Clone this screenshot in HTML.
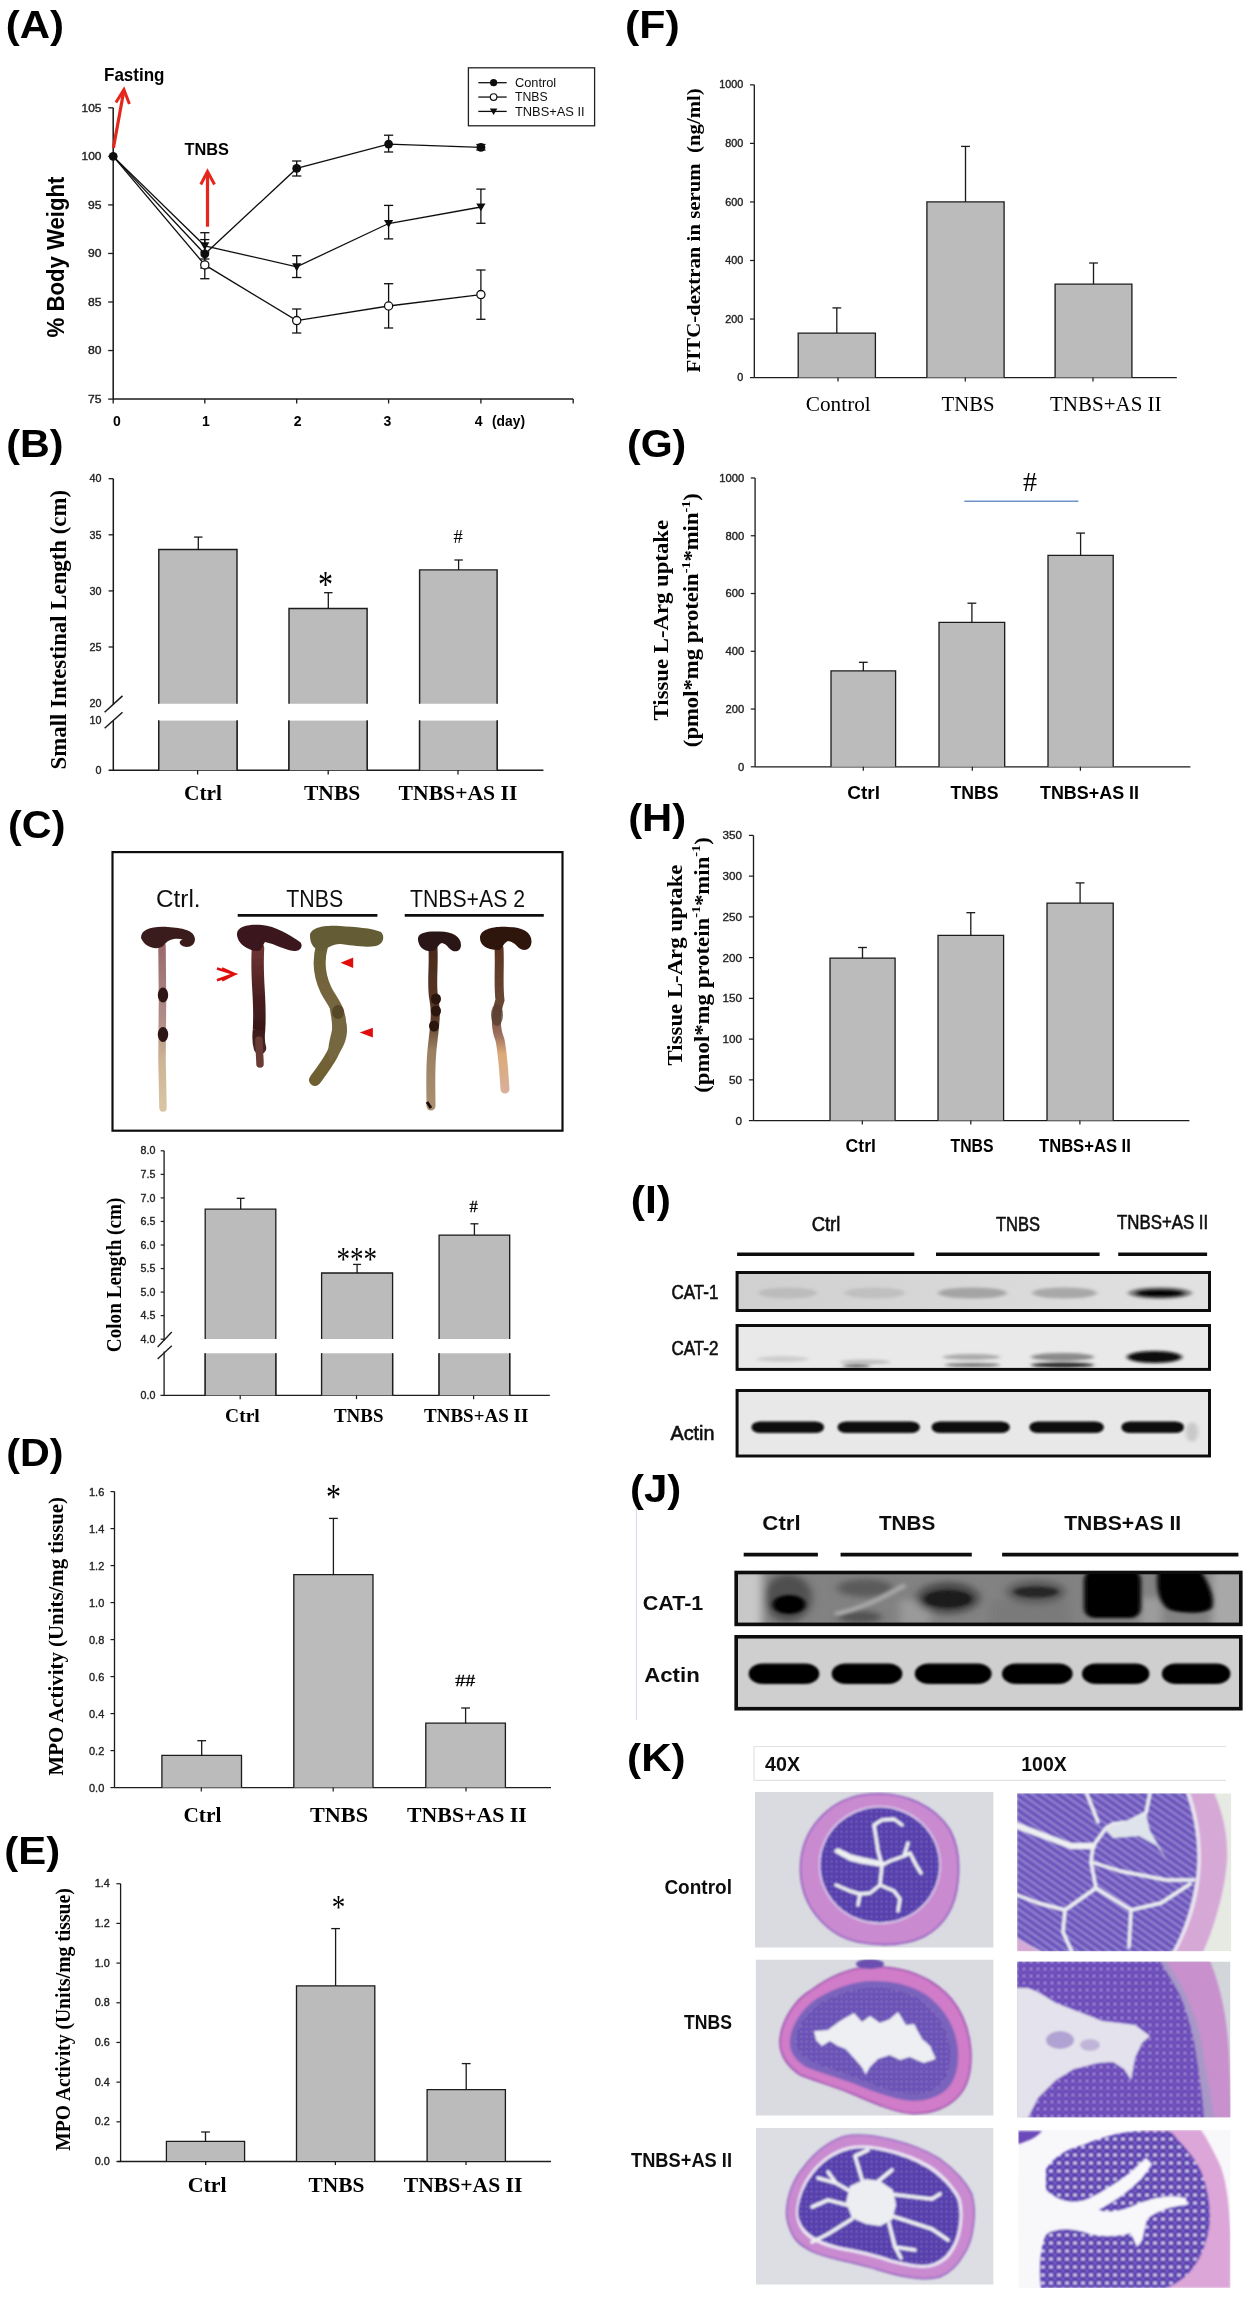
<!DOCTYPE html><html><head><meta charset="utf-8"><style>html,body{margin:0;padding:0;background:#fff;}svg{display:block;}</style></head><body>
<svg width="1252" height="2300" viewBox="0 0 1252 2300">
<rect width="1252" height="2300" fill="#fff"/>
<defs><filter id="gsoft" x="0" y="0" width="100%" height="100%" filterUnits="userSpaceOnUse"><feGaussianBlur stdDeviation="0.45"/></filter></defs>
<g filter="url(#gsoft)">
<text x="5.8" y="37.5" font-family='"Liberation Sans", sans-serif' font-size="39" font-weight="bold" text-anchor="start" fill="#000" textLength="58.3" lengthAdjust="spacingAndGlyphs">(A)</text>
<line x1="113.2" y1="107.8" x2="113.2" y2="399.1" stroke="#1a1a1a" stroke-width="1.5"/>
<line x1="113.2" y1="399.1" x2="573.2" y2="399.1" stroke="#1a1a1a" stroke-width="1.5"/>
<line x1="108.2" y1="399.1" x2="113.2" y2="399.1" stroke="#1a1a1a" stroke-width="1.3"/>
<text x="101.5" y="402.8" font-family='"Liberation Sans", sans-serif' font-size="10.5" font-weight="normal" text-anchor="end" fill="#222" textLength="13.5" lengthAdjust="spacingAndGlyphs" stroke="#222" stroke-width="0.35">75</text>
<line x1="108.2" y1="350.55" x2="113.2" y2="350.55" stroke="#1a1a1a" stroke-width="1.3"/>
<text x="101.5" y="354.25" font-family='"Liberation Sans", sans-serif' font-size="10.5" font-weight="normal" text-anchor="end" fill="#222" textLength="13.5" lengthAdjust="spacingAndGlyphs" stroke="#222" stroke-width="0.35">80</text>
<line x1="108.2" y1="302" x2="113.2" y2="302" stroke="#1a1a1a" stroke-width="1.3"/>
<text x="101.5" y="305.7" font-family='"Liberation Sans", sans-serif' font-size="10.5" font-weight="normal" text-anchor="end" fill="#222" textLength="13.5" lengthAdjust="spacingAndGlyphs" stroke="#222" stroke-width="0.35">85</text>
<line x1="108.2" y1="253.45" x2="113.2" y2="253.45" stroke="#1a1a1a" stroke-width="1.3"/>
<text x="101.5" y="257.15" font-family='"Liberation Sans", sans-serif' font-size="10.5" font-weight="normal" text-anchor="end" fill="#222" textLength="13.5" lengthAdjust="spacingAndGlyphs" stroke="#222" stroke-width="0.35">90</text>
<line x1="108.2" y1="204.9" x2="113.2" y2="204.9" stroke="#1a1a1a" stroke-width="1.3"/>
<text x="101.5" y="208.6" font-family='"Liberation Sans", sans-serif' font-size="10.5" font-weight="normal" text-anchor="end" fill="#222" textLength="13.5" lengthAdjust="spacingAndGlyphs" stroke="#222" stroke-width="0.35">95</text>
<line x1="108.2" y1="156.35" x2="113.2" y2="156.35" stroke="#1a1a1a" stroke-width="1.3"/>
<text x="101.5" y="160.05" font-family='"Liberation Sans", sans-serif' font-size="10.5" font-weight="normal" text-anchor="end" fill="#222" textLength="20" lengthAdjust="spacingAndGlyphs" stroke="#222" stroke-width="0.35">100</text>
<line x1="108.2" y1="107.8" x2="113.2" y2="107.8" stroke="#1a1a1a" stroke-width="1.3"/>
<text x="101.5" y="111.5" font-family='"Liberation Sans", sans-serif' font-size="10.5" font-weight="normal" text-anchor="end" fill="#222" textLength="20" lengthAdjust="spacingAndGlyphs" stroke="#222" stroke-width="0.35">105</text>
<line x1="113.2" y1="399.1" x2="113.2" y2="403.5" stroke="#1a1a1a" stroke-width="1.3"/>
<line x1="204.8" y1="399.1" x2="204.8" y2="403.5" stroke="#1a1a1a" stroke-width="1.3"/>
<line x1="296.7" y1="399.1" x2="296.7" y2="403.5" stroke="#1a1a1a" stroke-width="1.3"/>
<line x1="388.6" y1="399.1" x2="388.6" y2="403.5" stroke="#1a1a1a" stroke-width="1.3"/>
<line x1="480.9" y1="399.1" x2="480.9" y2="403.5" stroke="#1a1a1a" stroke-width="1.3"/>
<line x1="573.2" y1="399.1" x2="573.2" y2="403.5" stroke="#1a1a1a" stroke-width="1.3"/>
<text x="116.8" y="426" font-family='"Liberation Sans", sans-serif' font-size="14" font-weight="bold" text-anchor="middle" fill="#000">0</text>
<text x="205.8" y="426" font-family='"Liberation Sans", sans-serif' font-size="14" font-weight="bold" text-anchor="middle" fill="#000">1</text>
<text x="297.7" y="426" font-family='"Liberation Sans", sans-serif' font-size="14" font-weight="bold" text-anchor="middle" fill="#000">2</text>
<text x="387.5" y="426" font-family='"Liberation Sans", sans-serif' font-size="14" font-weight="bold" text-anchor="middle" fill="#000">3</text>
<text x="478.6" y="426" font-family='"Liberation Sans", sans-serif' font-size="14" font-weight="bold" text-anchor="middle" fill="#000">4</text>
<text x="492" y="426" font-family='"Liberation Sans", sans-serif' font-size="14" font-weight="bold" text-anchor="start" fill="#000" textLength="33" lengthAdjust="spacingAndGlyphs">(day)</text>
<text x="63.5" y="257" font-family='"Liberation Sans", sans-serif' font-size="23" font-weight="bold" text-anchor="middle" fill="#000" textLength="161" lengthAdjust="spacingAndGlyphs" transform="rotate(-90 63.5 257)">% Body Weight</text>
<path d="M113.2 156.4 L204.8 254 L296.7 168.4 L388.6 144.1 L480.9 147.3" fill="none" stroke="#111" stroke-width="1.3"/>
<path d="M113.2 156.4 L204.8 264.9 L296.7 320.6 L388.6 306 L480.9 294.6" fill="none" stroke="#111" stroke-width="1.3"/>
<path d="M113.2 156.4 L204.8 245.8 L296.7 266.8 L388.6 223.5 L480.9 207" fill="none" stroke="#111" stroke-width="1.3"/>
<line x1="204.8" y1="239.6" x2="204.8" y2="268" stroke="#111" stroke-width="1.3"/>
<line x1="200.2" y1="239.6" x2="209.4" y2="239.6" stroke="#111" stroke-width="1.3"/>
<line x1="200.2" y1="268" x2="209.4" y2="268" stroke="#111" stroke-width="1.3"/>
<line x1="296.7" y1="161" x2="296.7" y2="176" stroke="#111" stroke-width="1.3"/>
<line x1="292.1" y1="161" x2="301.3" y2="161" stroke="#111" stroke-width="1.3"/>
<line x1="292.1" y1="176" x2="301.3" y2="176" stroke="#111" stroke-width="1.3"/>
<line x1="388.6" y1="135.2" x2="388.6" y2="152" stroke="#111" stroke-width="1.3"/>
<line x1="384" y1="135.2" x2="393.2" y2="135.2" stroke="#111" stroke-width="1.3"/>
<line x1="384" y1="152" x2="393.2" y2="152" stroke="#111" stroke-width="1.3"/>
<line x1="480.9" y1="144.5" x2="480.9" y2="150" stroke="#111" stroke-width="1.3"/>
<line x1="476.3" y1="144.5" x2="485.5" y2="144.5" stroke="#111" stroke-width="1.3"/>
<line x1="476.3" y1="150" x2="485.5" y2="150" stroke="#111" stroke-width="1.3"/>
<line x1="204.8" y1="252" x2="204.8" y2="278.7" stroke="#111" stroke-width="1.3"/>
<line x1="200.2" y1="252" x2="209.4" y2="252" stroke="#111" stroke-width="1.3"/>
<line x1="200.2" y1="278.7" x2="209.4" y2="278.7" stroke="#111" stroke-width="1.3"/>
<line x1="296.7" y1="309" x2="296.7" y2="333" stroke="#111" stroke-width="1.3"/>
<line x1="292.1" y1="309" x2="301.3" y2="309" stroke="#111" stroke-width="1.3"/>
<line x1="292.1" y1="333" x2="301.3" y2="333" stroke="#111" stroke-width="1.3"/>
<line x1="388.6" y1="283.7" x2="388.6" y2="328" stroke="#111" stroke-width="1.3"/>
<line x1="384" y1="283.7" x2="393.2" y2="283.7" stroke="#111" stroke-width="1.3"/>
<line x1="384" y1="328" x2="393.2" y2="328" stroke="#111" stroke-width="1.3"/>
<line x1="480.9" y1="270" x2="480.9" y2="319.3" stroke="#111" stroke-width="1.3"/>
<line x1="476.3" y1="270" x2="485.5" y2="270" stroke="#111" stroke-width="1.3"/>
<line x1="476.3" y1="319.3" x2="485.5" y2="319.3" stroke="#111" stroke-width="1.3"/>
<line x1="204.8" y1="232.7" x2="204.8" y2="259" stroke="#111" stroke-width="1.3"/>
<line x1="200.2" y1="232.7" x2="209.4" y2="232.7" stroke="#111" stroke-width="1.3"/>
<line x1="200.2" y1="259" x2="209.4" y2="259" stroke="#111" stroke-width="1.3"/>
<line x1="296.7" y1="255.7" x2="296.7" y2="277.5" stroke="#111" stroke-width="1.3"/>
<line x1="292.1" y1="255.7" x2="301.3" y2="255.7" stroke="#111" stroke-width="1.3"/>
<line x1="292.1" y1="277.5" x2="301.3" y2="277.5" stroke="#111" stroke-width="1.3"/>
<line x1="388.6" y1="205.4" x2="388.6" y2="238.9" stroke="#111" stroke-width="1.3"/>
<line x1="384" y1="205.4" x2="393.2" y2="205.4" stroke="#111" stroke-width="1.3"/>
<line x1="384" y1="238.9" x2="393.2" y2="238.9" stroke="#111" stroke-width="1.3"/>
<line x1="480.9" y1="189.1" x2="480.9" y2="223.3" stroke="#111" stroke-width="1.3"/>
<line x1="476.3" y1="189.1" x2="485.5" y2="189.1" stroke="#111" stroke-width="1.3"/>
<line x1="476.3" y1="223.3" x2="485.5" y2="223.3" stroke="#111" stroke-width="1.3"/>
<circle cx="113.2" cy="156.4" r="4.4" fill="#111"/>
<circle cx="204.8" cy="254" r="4.4" fill="#111"/>
<circle cx="296.7" cy="168.4" r="4.4" fill="#111"/>
<circle cx="388.6" cy="144.1" r="4.4" fill="#111"/>
<circle cx="480.9" cy="147.3" r="4.4" fill="#111"/>
<circle cx="204.8" cy="264.9" r="4.1" fill="#fff" stroke="#111" stroke-width="1.3"/>
<circle cx="296.7" cy="320.6" r="4.1" fill="#fff" stroke="#111" stroke-width="1.3"/>
<circle cx="388.6" cy="306" r="4.1" fill="#fff" stroke="#111" stroke-width="1.3"/>
<circle cx="480.9" cy="294.6" r="4.1" fill="#fff" stroke="#111" stroke-width="1.3"/>
<path d="M200.2 242.35 L209.4 242.35 L204.8 250.17 Z" fill="#111" stroke="none" stroke-width="1"/>
<path d="M292.1 263.35 L301.3 263.35 L296.7 271.17 Z" fill="#111" stroke="none" stroke-width="1"/>
<path d="M384 220.05 L393.2 220.05 L388.6 227.87 Z" fill="#111" stroke="none" stroke-width="1"/>
<path d="M476.3 203.55 L485.5 203.55 L480.9 211.37 Z" fill="#111" stroke="none" stroke-width="1"/>
<rect x="468.4" y="67.8" width="126.2" height="58" fill="#fff" stroke="#222" stroke-width="1.3"/>
<line x1="478.3" y1="82.7" x2="506.7" y2="82.7" stroke="#111" stroke-width="1.3"/>
<circle cx="493.6" cy="82.7" r="3.6" fill="#111"/>
<text x="514.9" y="87.1" font-family='"Liberation Sans", sans-serif' font-size="12.5" font-weight="normal" text-anchor="start" fill="#111" textLength="41.3" lengthAdjust="spacingAndGlyphs">Control</text>
<line x1="478.3" y1="97.05" x2="506.7" y2="97.05" stroke="#111" stroke-width="1.3"/>
<circle cx="493.6" cy="97.05" r="3.3" fill="#fff" stroke="#111" stroke-width="1.2"/>
<text x="514.9" y="101.45" font-family='"Liberation Sans", sans-serif' font-size="12.5" font-weight="normal" text-anchor="start" fill="#111" textLength="32.7" lengthAdjust="spacingAndGlyphs">TNBS</text>
<line x1="478.3" y1="111.4" x2="506.7" y2="111.4" stroke="#111" stroke-width="1.3"/>
<path d="M489.8 108.55 L497.4 108.55 L493.6 115.01 Z" fill="#111" stroke="none" stroke-width="1"/>
<text x="514.9" y="115.8" font-family='"Liberation Sans", sans-serif' font-size="12.5" font-weight="normal" text-anchor="start" fill="#111" textLength="69.8" lengthAdjust="spacingAndGlyphs">TNBS+AS II</text>
<text x="104" y="80.5" font-family='"Liberation Sans", sans-serif' font-size="18.5" font-weight="bold" text-anchor="start" fill="#000" textLength="60.5" lengthAdjust="spacingAndGlyphs">Fasting</text>
<text x="184.5" y="154.7" font-family='"Liberation Sans", sans-serif' font-size="16.5" font-weight="bold" text-anchor="start" fill="#000" textLength="44.5" lengthAdjust="spacingAndGlyphs">TNBS</text>
<path d="M113.4 148 L123.8 91" fill="none" stroke="#e4261c" stroke-width="3.2"/>
<path d="M115.9 102.5 L123.9 89.6 L129.4 104" fill="none" stroke="#e4261c" stroke-width="3" stroke-linejoin="miter"/>
<path d="M207.5 226.7 L207.5 173" fill="none" stroke="#e4261c" stroke-width="3.2"/>
<path d="M200.8 184.5 L207.5 171.5 L214.5 184.5" fill="none" stroke="#e4261c" stroke-width="3"/>
<text x="6.2" y="457.1" font-family='"Liberation Sans", sans-serif' font-size="39" font-weight="bold" text-anchor="start" fill="#000" textLength="57.3" lengthAdjust="spacingAndGlyphs">(B)</text>
<line x1="113.3" y1="478.7" x2="113.3" y2="704.5" stroke="#1a1a1a" stroke-width="1.5"/>
<line x1="113.3" y1="720.5" x2="113.3" y2="770.3" stroke="#1a1a1a" stroke-width="1.5"/>
<line x1="108.6" y1="770.3" x2="543.4" y2="770.3" stroke="#1a1a1a" stroke-width="1.5"/>
<line x1="108.6" y1="478.7" x2="113.3" y2="478.7" stroke="#1a1a1a" stroke-width="1.3"/>
<text x="101.5" y="482.4" font-family='"Liberation Sans", sans-serif' font-size="10.5" font-weight="normal" text-anchor="end" fill="#222" textLength="12" lengthAdjust="spacingAndGlyphs" stroke="#222" stroke-width="0.35">40</text>
<line x1="108.6" y1="534.8" x2="113.3" y2="534.8" stroke="#1a1a1a" stroke-width="1.3"/>
<text x="101.5" y="538.5" font-family='"Liberation Sans", sans-serif' font-size="10.5" font-weight="normal" text-anchor="end" fill="#222" textLength="12" lengthAdjust="spacingAndGlyphs" stroke="#222" stroke-width="0.35">35</text>
<line x1="108.6" y1="590.9" x2="113.3" y2="590.9" stroke="#1a1a1a" stroke-width="1.3"/>
<text x="101.5" y="594.6" font-family='"Liberation Sans", sans-serif' font-size="10.5" font-weight="normal" text-anchor="end" fill="#222" textLength="12" lengthAdjust="spacingAndGlyphs" stroke="#222" stroke-width="0.35">30</text>
<line x1="108.6" y1="647" x2="113.3" y2="647" stroke="#1a1a1a" stroke-width="1.3"/>
<text x="101.5" y="650.7" font-family='"Liberation Sans", sans-serif' font-size="10.5" font-weight="normal" text-anchor="end" fill="#222" textLength="12" lengthAdjust="spacingAndGlyphs" stroke="#222" stroke-width="0.35">25</text>
<text x="101.5" y="706.7" font-family='"Liberation Sans", sans-serif' font-size="10.5" font-weight="normal" text-anchor="end" fill="#222" textLength="12" lengthAdjust="spacingAndGlyphs" stroke="#222" stroke-width="0.35">20</text>
<text x="101.5" y="723.5" font-family='"Liberation Sans", sans-serif' font-size="10.5" font-weight="normal" text-anchor="end" fill="#222" textLength="12" lengthAdjust="spacingAndGlyphs" stroke="#222" stroke-width="0.35">10</text>
<text x="101.5" y="773.9" font-family='"Liberation Sans", sans-serif' font-size="10.5" font-weight="normal" text-anchor="end" fill="#222" textLength="6" lengthAdjust="spacingAndGlyphs" stroke="#222" stroke-width="0.35">0</text>
<line x1="104.6" y1="712.3" x2="122.5" y2="695.9" stroke="#1a1a1a" stroke-width="1.5"/>
<line x1="104.6" y1="728.3" x2="122.5" y2="712.3" stroke="#1a1a1a" stroke-width="1.5"/>
<path d="M158.8 703.7 V549.5 H237 V703.7" fill="#bbbbbb" stroke="#1a1a1a" stroke-width="1.4"/>
<path d="M158.8 770.3 V720.6 M237 720.6 V770.3" fill="none" stroke="#1a1a1a" stroke-width="1.4"/>
<rect x="158.8" y="720.6" width="78.2" height="49.7" fill="#bbbbbb" stroke="none" stroke-width="1"/>
<path d="M158.8 770.3 V720.6 M237 720.6 V770.3" fill="none" stroke="#1a1a1a" stroke-width="1.4"/>
<path d="M289 703.7 V608.5 H367.1 V703.7" fill="#bbbbbb" stroke="#1a1a1a" stroke-width="1.4"/>
<path d="M289 770.3 V720.6 M367.1 720.6 V770.3" fill="none" stroke="#1a1a1a" stroke-width="1.4"/>
<rect x="289" y="720.6" width="78.1" height="49.7" fill="#bbbbbb" stroke="none" stroke-width="1"/>
<path d="M289 770.3 V720.6 M367.1 720.6 V770.3" fill="none" stroke="#1a1a1a" stroke-width="1.4"/>
<path d="M419.6 703.7 V569.9 H497.1 V703.7" fill="#bbbbbb" stroke="#1a1a1a" stroke-width="1.4"/>
<path d="M419.6 770.3 V720.6 M497.1 720.6 V770.3" fill="none" stroke="#1a1a1a" stroke-width="1.4"/>
<rect x="419.6" y="720.6" width="77.5" height="49.7" fill="#bbbbbb" stroke="none" stroke-width="1"/>
<path d="M419.6 770.3 V720.6 M497.1 720.6 V770.3" fill="none" stroke="#1a1a1a" stroke-width="1.4"/>
<line x1="198.3" y1="549.5" x2="198.3" y2="537.1" stroke="#1a1a1a" stroke-width="1.3"/>
<line x1="194.05" y1="537.1" x2="202.55" y2="537.1" stroke="#1a1a1a" stroke-width="1.3"/>
<line x1="328.3" y1="608.5" x2="328.3" y2="592.7" stroke="#1a1a1a" stroke-width="1.3"/>
<line x1="324.05" y1="592.7" x2="332.55" y2="592.7" stroke="#1a1a1a" stroke-width="1.3"/>
<line x1="458.6" y1="569.9" x2="458.6" y2="560" stroke="#1a1a1a" stroke-width="1.3"/>
<line x1="454.35" y1="560" x2="462.85" y2="560" stroke="#1a1a1a" stroke-width="1.3"/>
<line x1="197.6" y1="770.3" x2="197.6" y2="774.5" stroke="#1a1a1a" stroke-width="1.3"/>
<line x1="328.2" y1="770.3" x2="328.2" y2="774.5" stroke="#1a1a1a" stroke-width="1.3"/>
<line x1="458" y1="770.3" x2="458" y2="774.5" stroke="#1a1a1a" stroke-width="1.3"/>
<text x="325.6" y="596.7" font-family='"Liberation Serif", serif' font-size="37" font-weight="normal" text-anchor="middle" fill="#000" textLength="15" lengthAdjust="spacingAndGlyphs">*</text>
<text x="458.2" y="543" font-family='"Liberation Serif", serif' font-size="18.5" font-weight="normal" text-anchor="middle" fill="#000">#</text>
<text x="203" y="799.5" font-family='"Liberation Serif", serif' font-size="20.5" font-weight="bold" text-anchor="middle" fill="#000" textLength="38" lengthAdjust="spacingAndGlyphs">Ctrl</text>
<text x="332.1" y="799.5" font-family='"Liberation Serif", serif' font-size="20.5" font-weight="bold" text-anchor="middle" fill="#000" textLength="56.2" lengthAdjust="spacingAndGlyphs">TNBS</text>
<text x="458" y="799.5" font-family='"Liberation Serif", serif' font-size="20.5" font-weight="bold" text-anchor="middle" fill="#000" textLength="118.8" lengthAdjust="spacingAndGlyphs">TNBS+AS II</text>
<text x="65.8" y="629.7" font-family='"Liberation Serif", serif' font-size="22.7" font-weight="bold" text-anchor="middle" fill="#000" textLength="279.5" lengthAdjust="spacingAndGlyphs" transform="rotate(-90 65.8 629.7)">Small Intestinal Length (cm)</text>
<text x="8.1" y="838.3" font-family='"Liberation Sans", sans-serif' font-size="39" font-weight="bold" text-anchor="start" fill="#000" textLength="57.4" lengthAdjust="spacingAndGlyphs">(C)</text>
<defs><linearGradient id="gCtrl" x1="0" y1="0" x2="0" y2="1"><stop offset="0" stop-color="#9a6a6c"/><stop offset="0.45" stop-color="#b08c88"/><stop offset="0.7" stop-color="#cdb393"/><stop offset="1" stop-color="#d8c4a4"/></linearGradient><linearGradient id="gT1" x1="0" y1="0" x2="0" y2="1"><stop offset="0" stop-color="#6e3434"/><stop offset="0.5" stop-color="#4a1e20"/><stop offset="0.8" stop-color="#3a1818"/><stop offset="1" stop-color="#4a2424"/></linearGradient><linearGradient id="gT2" x1="0" y1="0" x2="0" y2="1"><stop offset="0" stop-color="#6a6236"/><stop offset="0.5" stop-color="#7a6640"/><stop offset="1" stop-color="#6e6030"/></linearGradient><linearGradient id="gA1" x1="0" y1="0" x2="0" y2="1"><stop offset="0" stop-color="#4a2a1c"/><stop offset="0.45" stop-color="#5a3a28"/><stop offset="0.65" stop-color="#9a8060"/><stop offset="1" stop-color="#a89070"/></linearGradient><linearGradient id="gA2" x1="0" y1="0" x2="0" y2="1"><stop offset="0" stop-color="#5c3420"/><stop offset="0.45" stop-color="#6a4a38"/><stop offset="0.62" stop-color="#a07060"/><stop offset="0.75" stop-color="#dcaa78"/><stop offset="1" stop-color="#d8b098"/></linearGradient><filter id="soft" x="-20%" y="-20%" width="140%" height="140%"><feGaussianBlur stdDeviation="0.7"/></filter></defs>
<rect x="112.5" y="852.1" width="450" height="278.6" fill="#fff" stroke="#111" stroke-width="2.2"/>
<text x="178.3" y="906.5" font-family='"Liberation Sans", sans-serif' font-size="23" font-weight="normal" text-anchor="middle" fill="#111" textLength="44.6" lengthAdjust="spacingAndGlyphs">Ctrl.</text>
<text x="314.8" y="906.5" font-family='"Liberation Sans", sans-serif' font-size="23" font-weight="normal" text-anchor="middle" fill="#111" textLength="57" lengthAdjust="spacingAndGlyphs">TNBS</text>
<text x="467.5" y="906.5" font-family='"Liberation Sans", sans-serif' font-size="23" font-weight="normal" text-anchor="middle" fill="#111" textLength="115" lengthAdjust="spacingAndGlyphs">TNBS+AS 2</text>
<line x1="237.7" y1="915.4" x2="377.4" y2="915.4" stroke="#111" stroke-width="2.6"/>
<line x1="404.7" y1="915.4" x2="543.8" y2="915.4" stroke="#111" stroke-width="2.6"/>
<g filter="url(#soft)">
<path d="M162 946 L162.5 1000 L162 1060 L163 1108" fill="none" stroke="url(#gCtrl)" stroke-width="7.5" stroke-linecap="round"/>
<path d="M141 938 C141 929 152 926 168 927 C182 928 194.5 930 195 939 C195 947 186 949 181 945 C178 942 181 939 184 940 C176 937 168 939 163 946 C158 950 146 949 141 938 Z" fill="#3a1c1c" stroke="none" stroke-width="1"/>
<ellipse cx="163" cy="995" rx="5.2" ry="7.5" fill="#2e1614"/>
<ellipse cx="163" cy="1034.5" rx="5.2" ry="7.5" fill="#2e1614"/>
<path d="M258 948 C256 980 261 1000 259 1030 C258 1040 259 1045 260 1048" fill="none" stroke="url(#gT1)" stroke-width="12.5" stroke-linecap="round"/>
<path d="M259 1040 C259 1050 260 1058 260 1064" fill="none" stroke="#6a3a34" stroke-width="7.5" stroke-linecap="round"/>
<path d="M237 935 C236 926 250 924 262 925 C275 926 290 935 300 942 C304 946 300 952 294 951 C285 950 275 944 265 942 C262 946 262 951 258 951 C250 951 238 945 237 935 Z" fill="#3a181a" stroke="none" stroke-width="1"/>
<path d="M322 946 C318 960 319 975 326 990 C332 1002 342 1010 340 1030 C338 1050 326 1065 315 1080" fill="none" stroke="url(#gT2)" stroke-width="12" stroke-linecap="round"/>
<path d="M330 1000 C340 1005 348 1018 347 1032 C346 1046 338 1056 330 1062 C326 1050 330 1040 332 1030 C333 1018 328 1008 330 1000 Z" fill="#756840" stroke="none" stroke-width="1"/>
<path d="M310 936 C310 927 325 925 340 926 C355 927 372 928 381 932 C385 936 384 944 376 946 C365 948 350 945 340 944 C332 944 328 948 322 951 C315 951 310 944 310 936 Z" fill="#635c36" stroke="none" stroke-width="1"/>
<ellipse cx="338" cy="1012" rx="6" ry="7" fill="#4a3a22" opacity="0.7"/>
<path d="M433 948 C434 970 431 985 434 1000 C437 1015 434 1030 432 1050 C430 1070 431 1090 431 1106" fill="none" stroke="url(#gA1)" stroke-width="9" stroke-linecap="round"/>
<path d="M418 940 C417 932 428 931 440 931.5 C452 932 461 936 461 945 C461 952 454 953 450 949 C447 946 446 944 442 943 C438 944 437 950 433 951 C425 952 419 948 418 940 Z" fill="#2c1512" stroke="none" stroke-width="1"/>
<ellipse cx="436" cy="999" rx="5" ry="5.5" fill="#2a1410"/>
<ellipse cx="436" cy="1011" rx="5" ry="5.5" fill="#2a1410"/>
<ellipse cx="434" cy="1026" rx="5" ry="5.5" fill="#2a1410"/>
<path d="M427 1102 L431 1108" fill="none" stroke="#1a0a08" stroke-width="3"/>
<path d="M499 948 C500 965 498 985 500 1000 C496 1012 494 1025 500 1040 C503 1055 504 1075 505 1089" fill="none" stroke="url(#gA2)" stroke-width="9" stroke-linecap="round"/>
<path d="M480 938 C480 929 494 926 508 927 C522 927 532 932 531.5 942 C531 950 524 952 519 948 C516 945 514 942 508 941 C503 943 502 950 498 950 C488 950 480 946 480 938 Z" fill="#2e1510" stroke="none" stroke-width="1"/>
<ellipse cx="497" cy="1015" rx="6" ry="11" fill="#5a4030" opacity="0.8"/>
</g>
<path d="M217 968.5 L234.5 974 L217 980.3 M222 968.5 L234.5 974 L222 980.3" fill="none" stroke="#e01010" stroke-width="2.6"/>
<path d="M353.2 957.5 L340.5 962.7 L353.2 967.9 Z" fill="#e01010" stroke="none" stroke-width="1"/>
<path d="M372.9 1027.7 L359.7 1032.5 L372.9 1037.4 Z" fill="#e01010" stroke="none" stroke-width="1"/>
<line x1="164.1" y1="1150.8" x2="164.1" y2="1340.5" stroke="#1a1a1a" stroke-width="1.3"/>
<line x1="164.1" y1="1351.5" x2="164.1" y2="1395.4" stroke="#1a1a1a" stroke-width="1.3"/>
<line x1="160.5" y1="1395.4" x2="549.8" y2="1395.4" stroke="#1a1a1a" stroke-width="1.3"/>
<line x1="160.7" y1="1150.8" x2="164.1" y2="1150.8" stroke="#1a1a1a" stroke-width="1.2"/>
<text x="155.4" y="1154.4" font-family='"Liberation Sans", sans-serif' font-size="10" font-weight="normal" text-anchor="end" fill="#222" textLength="14.8" lengthAdjust="spacingAndGlyphs" stroke="#222" stroke-width="0.35">8.0</text>
<line x1="160.7" y1="1174.35" x2="164.1" y2="1174.35" stroke="#1a1a1a" stroke-width="1.2"/>
<text x="155.4" y="1177.95" font-family='"Liberation Sans", sans-serif' font-size="10" font-weight="normal" text-anchor="end" fill="#222" textLength="14.8" lengthAdjust="spacingAndGlyphs" stroke="#222" stroke-width="0.35">7.5</text>
<line x1="160.7" y1="1197.9" x2="164.1" y2="1197.9" stroke="#1a1a1a" stroke-width="1.2"/>
<text x="155.4" y="1201.5" font-family='"Liberation Sans", sans-serif' font-size="10" font-weight="normal" text-anchor="end" fill="#222" textLength="14.8" lengthAdjust="spacingAndGlyphs" stroke="#222" stroke-width="0.35">7.0</text>
<line x1="160.7" y1="1221.45" x2="164.1" y2="1221.45" stroke="#1a1a1a" stroke-width="1.2"/>
<text x="155.4" y="1225.05" font-family='"Liberation Sans", sans-serif' font-size="10" font-weight="normal" text-anchor="end" fill="#222" textLength="14.8" lengthAdjust="spacingAndGlyphs" stroke="#222" stroke-width="0.35">6.5</text>
<line x1="160.7" y1="1245" x2="164.1" y2="1245" stroke="#1a1a1a" stroke-width="1.2"/>
<text x="155.4" y="1248.6" font-family='"Liberation Sans", sans-serif' font-size="10" font-weight="normal" text-anchor="end" fill="#222" textLength="14.8" lengthAdjust="spacingAndGlyphs" stroke="#222" stroke-width="0.35">6.0</text>
<line x1="160.7" y1="1268.55" x2="164.1" y2="1268.55" stroke="#1a1a1a" stroke-width="1.2"/>
<text x="155.4" y="1272.15" font-family='"Liberation Sans", sans-serif' font-size="10" font-weight="normal" text-anchor="end" fill="#222" textLength="14.8" lengthAdjust="spacingAndGlyphs" stroke="#222" stroke-width="0.35">5.5</text>
<line x1="160.7" y1="1292.1" x2="164.1" y2="1292.1" stroke="#1a1a1a" stroke-width="1.2"/>
<text x="155.4" y="1295.7" font-family='"Liberation Sans", sans-serif' font-size="10" font-weight="normal" text-anchor="end" fill="#222" textLength="14.8" lengthAdjust="spacingAndGlyphs" stroke="#222" stroke-width="0.35">5.0</text>
<line x1="160.7" y1="1315.65" x2="164.1" y2="1315.65" stroke="#1a1a1a" stroke-width="1.2"/>
<text x="155.4" y="1319.25" font-family='"Liberation Sans", sans-serif' font-size="10" font-weight="normal" text-anchor="end" fill="#222" textLength="14.8" lengthAdjust="spacingAndGlyphs" stroke="#222" stroke-width="0.35">4.5</text>
<line x1="160.7" y1="1339.2" x2="164.1" y2="1339.2" stroke="#1a1a1a" stroke-width="1.2"/>
<text x="155.4" y="1342.8" font-family='"Liberation Sans", sans-serif' font-size="10" font-weight="normal" text-anchor="end" fill="#222" textLength="14.8" lengthAdjust="spacingAndGlyphs" stroke="#222" stroke-width="0.35">4.0</text>
<text x="155.4" y="1399" font-family='"Liberation Sans", sans-serif' font-size="10" font-weight="normal" text-anchor="end" fill="#222" textLength="14.8" lengthAdjust="spacingAndGlyphs" stroke="#222" stroke-width="0.35">0.0</text>
<line x1="157.6" y1="1347" x2="171.8" y2="1332" stroke="#1a1a1a" stroke-width="1.3"/>
<line x1="157.6" y1="1359" x2="171.8" y2="1345.8" stroke="#1a1a1a" stroke-width="1.3"/>
<path d="M205.2 1339.1 V1209.2 H275.8 V1339.1" fill="#bbbbbb" stroke="#1a1a1a" stroke-width="1.3"/>
<path d="M205.2 1395.4 V1353.3 M275.8 1353.3 V1395.4" fill="none" stroke="#1a1a1a" stroke-width="1.3"/>
<rect x="205.2" y="1353.3" width="70.6" height="42.1" fill="#bbbbbb" stroke="none" stroke-width="1"/>
<path d="M205.2 1395.4 V1353.3 M275.8 1353.3 V1395.4" fill="none" stroke="#1a1a1a" stroke-width="1.3"/>
<path d="M321.6 1339.1 V1273 H392.6 V1339.1" fill="#bbbbbb" stroke="#1a1a1a" stroke-width="1.3"/>
<path d="M321.6 1395.4 V1353.3 M392.6 1353.3 V1395.4" fill="none" stroke="#1a1a1a" stroke-width="1.3"/>
<rect x="321.6" y="1353.3" width="71" height="42.1" fill="#bbbbbb" stroke="none" stroke-width="1"/>
<path d="M321.6 1395.4 V1353.3 M392.6 1353.3 V1395.4" fill="none" stroke="#1a1a1a" stroke-width="1.3"/>
<path d="M439.1 1339.1 V1235.1 H509.7 V1339.1" fill="#bbbbbb" stroke="#1a1a1a" stroke-width="1.3"/>
<path d="M439.1 1395.4 V1353.3 M509.7 1353.3 V1395.4" fill="none" stroke="#1a1a1a" stroke-width="1.3"/>
<rect x="439.1" y="1353.3" width="70.6" height="42.1" fill="#bbbbbb" stroke="none" stroke-width="1"/>
<path d="M439.1 1395.4 V1353.3 M509.7 1353.3 V1395.4" fill="none" stroke="#1a1a1a" stroke-width="1.3"/>
<line x1="240.7" y1="1209.2" x2="240.7" y2="1198.3" stroke="#1a1a1a" stroke-width="1.3"/>
<line x1="236.7" y1="1198.3" x2="244.7" y2="1198.3" stroke="#1a1a1a" stroke-width="1.3"/>
<line x1="357.1" y1="1273" x2="357.1" y2="1264.4" stroke="#1a1a1a" stroke-width="1.3"/>
<line x1="353.1" y1="1264.4" x2="361.1" y2="1264.4" stroke="#1a1a1a" stroke-width="1.3"/>
<line x1="474.4" y1="1235.1" x2="474.4" y2="1223.8" stroke="#1a1a1a" stroke-width="1.3"/>
<line x1="470.4" y1="1223.8" x2="478.4" y2="1223.8" stroke="#1a1a1a" stroke-width="1.3"/>
<line x1="240.2" y1="1395.4" x2="240.2" y2="1399.2" stroke="#1a1a1a" stroke-width="1.2"/>
<line x1="356.5" y1="1395.4" x2="356.5" y2="1399.2" stroke="#1a1a1a" stroke-width="1.2"/>
<line x1="473.6" y1="1395.4" x2="473.6" y2="1399.2" stroke="#1a1a1a" stroke-width="1.2"/>
<text x="356.8" y="1269.6" font-family='"Liberation Serif", serif' font-size="33" font-weight="normal" text-anchor="middle" fill="#000" textLength="40.6" lengthAdjust="spacingAndGlyphs">***</text>
<text x="473.6" y="1212" font-family='"Liberation Serif", serif' font-size="16.5" font-weight="normal" text-anchor="middle" fill="#000" stroke="#000" stroke-width="0.3">#</text>
<text x="242.4" y="1422" font-family='"Liberation Serif", serif' font-size="19" font-weight="bold" text-anchor="middle" fill="#000" textLength="34.6" lengthAdjust="spacingAndGlyphs">Ctrl</text>
<text x="358.7" y="1422" font-family='"Liberation Serif", serif' font-size="19" font-weight="bold" text-anchor="middle" fill="#000" textLength="49.5" lengthAdjust="spacingAndGlyphs">TNBS</text>
<text x="476.2" y="1422" font-family='"Liberation Serif", serif' font-size="19" font-weight="bold" text-anchor="middle" fill="#000" textLength="104.4" lengthAdjust="spacingAndGlyphs">TNBS+AS II</text>
<text x="121.3" y="1274.9" font-family='"Liberation Serif", serif' font-size="20.5" font-weight="bold" text-anchor="middle" fill="#000" textLength="154.6" lengthAdjust="spacingAndGlyphs" transform="rotate(-90 121.3 1274.9)">Colon Length (cm)</text>
<text x="6.2" y="1466.4" font-family='"Liberation Sans", sans-serif' font-size="39" font-weight="bold" text-anchor="start" fill="#000" textLength="57.3" lengthAdjust="spacingAndGlyphs">(D)</text>
<line x1="114.5" y1="1491.6" x2="114.5" y2="1787.6" stroke="#1a1a1a" stroke-width="1.3"/>
<line x1="114.5" y1="1787.6" x2="551" y2="1787.6" stroke="#1a1a1a" stroke-width="1.3"/>
<line x1="110.5" y1="1787.6" x2="114.5" y2="1787.6" stroke="#1a1a1a" stroke-width="1.2"/>
<text x="104.3" y="1791.7" font-family='"Liberation Sans", sans-serif' font-size="11.5" font-weight="normal" text-anchor="end" fill="#222" textLength="15.3" lengthAdjust="spacingAndGlyphs" stroke="#222" stroke-width="0.35">0.0</text>
<line x1="110.5" y1="1750.6" x2="114.5" y2="1750.6" stroke="#1a1a1a" stroke-width="1.2"/>
<text x="104.3" y="1754.7" font-family='"Liberation Sans", sans-serif' font-size="11.5" font-weight="normal" text-anchor="end" fill="#222" textLength="15.3" lengthAdjust="spacingAndGlyphs" stroke="#222" stroke-width="0.35">0.2</text>
<line x1="110.5" y1="1713.6" x2="114.5" y2="1713.6" stroke="#1a1a1a" stroke-width="1.2"/>
<text x="104.3" y="1717.7" font-family='"Liberation Sans", sans-serif' font-size="11.5" font-weight="normal" text-anchor="end" fill="#222" textLength="15.3" lengthAdjust="spacingAndGlyphs" stroke="#222" stroke-width="0.35">0.4</text>
<line x1="110.5" y1="1676.6" x2="114.5" y2="1676.6" stroke="#1a1a1a" stroke-width="1.2"/>
<text x="104.3" y="1680.7" font-family='"Liberation Sans", sans-serif' font-size="11.5" font-weight="normal" text-anchor="end" fill="#222" textLength="15.3" lengthAdjust="spacingAndGlyphs" stroke="#222" stroke-width="0.35">0.6</text>
<line x1="110.5" y1="1639.6" x2="114.5" y2="1639.6" stroke="#1a1a1a" stroke-width="1.2"/>
<text x="104.3" y="1643.7" font-family='"Liberation Sans", sans-serif' font-size="11.5" font-weight="normal" text-anchor="end" fill="#222" textLength="15.3" lengthAdjust="spacingAndGlyphs" stroke="#222" stroke-width="0.35">0.8</text>
<line x1="110.5" y1="1602.6" x2="114.5" y2="1602.6" stroke="#1a1a1a" stroke-width="1.2"/>
<text x="104.3" y="1606.7" font-family='"Liberation Sans", sans-serif' font-size="11.5" font-weight="normal" text-anchor="end" fill="#222" textLength="15.3" lengthAdjust="spacingAndGlyphs" stroke="#222" stroke-width="0.35">1.0</text>
<line x1="110.5" y1="1565.6" x2="114.5" y2="1565.6" stroke="#1a1a1a" stroke-width="1.2"/>
<text x="104.3" y="1569.7" font-family='"Liberation Sans", sans-serif' font-size="11.5" font-weight="normal" text-anchor="end" fill="#222" textLength="15.3" lengthAdjust="spacingAndGlyphs" stroke="#222" stroke-width="0.35">1.2</text>
<line x1="110.5" y1="1528.6" x2="114.5" y2="1528.6" stroke="#1a1a1a" stroke-width="1.2"/>
<text x="104.3" y="1532.7" font-family='"Liberation Sans", sans-serif' font-size="11.5" font-weight="normal" text-anchor="end" fill="#222" textLength="15.3" lengthAdjust="spacingAndGlyphs" stroke="#222" stroke-width="0.35">1.4</text>
<line x1="110.5" y1="1491.6" x2="114.5" y2="1491.6" stroke="#1a1a1a" stroke-width="1.2"/>
<text x="104.3" y="1495.7" font-family='"Liberation Sans", sans-serif' font-size="11.5" font-weight="normal" text-anchor="end" fill="#222" textLength="15.3" lengthAdjust="spacingAndGlyphs" stroke="#222" stroke-width="0.35">1.6</text>
<path d="M161.9 1787.6 V1755.4 H241.5 V1787.6" fill="#bbbbbb" stroke="#1a1a1a" stroke-width="1.3"/>
<path d="M293.8 1787.6 V1574.7 H373 V1787.6" fill="#bbbbbb" stroke="#1a1a1a" stroke-width="1.3"/>
<path d="M425.8 1787.6 V1723.2 H505.4 V1787.6" fill="#bbbbbb" stroke="#1a1a1a" stroke-width="1.3"/>
<line x1="201.7" y1="1755.4" x2="201.7" y2="1740.7" stroke="#1a1a1a" stroke-width="1.3"/>
<line x1="197.3" y1="1740.7" x2="206.1" y2="1740.7" stroke="#1a1a1a" stroke-width="1.3"/>
<line x1="333.4" y1="1574.7" x2="333.4" y2="1518.4" stroke="#1a1a1a" stroke-width="1.3"/>
<line x1="329" y1="1518.4" x2="337.8" y2="1518.4" stroke="#1a1a1a" stroke-width="1.3"/>
<line x1="465.6" y1="1723.2" x2="465.6" y2="1708" stroke="#1a1a1a" stroke-width="1.3"/>
<line x1="461.2" y1="1708" x2="470" y2="1708" stroke="#1a1a1a" stroke-width="1.3"/>
<line x1="201.3" y1="1787.6" x2="201.3" y2="1791.5" stroke="#1a1a1a" stroke-width="1.2"/>
<line x1="333.2" y1="1787.6" x2="333.2" y2="1791.5" stroke="#1a1a1a" stroke-width="1.2"/>
<line x1="466" y1="1787.6" x2="466" y2="1791.5" stroke="#1a1a1a" stroke-width="1.2"/>
<text x="333.6" y="1508.5" font-family='"Liberation Serif", serif' font-size="36" font-weight="normal" text-anchor="middle" fill="#000" textLength="15" lengthAdjust="spacingAndGlyphs">*</text>
<text x="465.2" y="1685.5" font-family='"Liberation Serif", serif' font-size="16" font-weight="normal" text-anchor="middle" fill="#000" textLength="20" lengthAdjust="spacingAndGlyphs" stroke="#000" stroke-width="0.3">##</text>
<text x="202.4" y="1821.6" font-family='"Liberation Serif", serif' font-size="21.5" font-weight="bold" text-anchor="middle" fill="#000" textLength="38" lengthAdjust="spacingAndGlyphs">Ctrl</text>
<text x="339" y="1821.6" font-family='"Liberation Serif", serif' font-size="21.5" font-weight="bold" text-anchor="middle" fill="#000" textLength="58" lengthAdjust="spacingAndGlyphs">TNBS</text>
<text x="466.9" y="1821.6" font-family='"Liberation Serif", serif' font-size="21.5" font-weight="bold" text-anchor="middle" fill="#000" textLength="119.8" lengthAdjust="spacingAndGlyphs">TNBS+AS II</text>
<text x="63.5" y="1636.2" font-family='"Liberation Serif", serif' font-size="21.5" font-weight="bold" text-anchor="middle" fill="#000" textLength="278.5" lengthAdjust="spacingAndGlyphs" transform="rotate(-90 63.5 1636.2)">MPO Activity (Units/mg tissue)</text>
<text x="4.3" y="1863.5" font-family='"Liberation Sans", sans-serif' font-size="39" font-weight="bold" text-anchor="start" fill="#000" textLength="55.8" lengthAdjust="spacingAndGlyphs">(E)</text>
<line x1="120.6" y1="1883.74" x2="120.6" y2="2161.1" stroke="#1a1a1a" stroke-width="1.3"/>
<line x1="117.6" y1="2161.5" x2="551" y2="2161.5" stroke="#1a1a1a" stroke-width="1.3"/>
<line x1="116.4" y1="2161.5" x2="120.6" y2="2161.5" stroke="#1a1a1a" stroke-width="1.2"/>
<text x="109.7" y="2165.1" font-family='"Liberation Sans", sans-serif' font-size="10" font-weight="normal" text-anchor="end" fill="#222" textLength="15" lengthAdjust="spacingAndGlyphs" stroke="#222" stroke-width="0.35">0.0</text>
<line x1="116.4" y1="2121.82" x2="120.6" y2="2121.82" stroke="#1a1a1a" stroke-width="1.2"/>
<text x="109.7" y="2125.42" font-family='"Liberation Sans", sans-serif' font-size="10" font-weight="normal" text-anchor="end" fill="#222" textLength="15" lengthAdjust="spacingAndGlyphs" stroke="#222" stroke-width="0.35">0.2</text>
<line x1="116.4" y1="2082.14" x2="120.6" y2="2082.14" stroke="#1a1a1a" stroke-width="1.2"/>
<text x="109.7" y="2085.74" font-family='"Liberation Sans", sans-serif' font-size="10" font-weight="normal" text-anchor="end" fill="#222" textLength="15" lengthAdjust="spacingAndGlyphs" stroke="#222" stroke-width="0.35">0.4</text>
<line x1="116.4" y1="2042.46" x2="120.6" y2="2042.46" stroke="#1a1a1a" stroke-width="1.2"/>
<text x="109.7" y="2046.06" font-family='"Liberation Sans", sans-serif' font-size="10" font-weight="normal" text-anchor="end" fill="#222" textLength="15" lengthAdjust="spacingAndGlyphs" stroke="#222" stroke-width="0.35">0.6</text>
<line x1="116.4" y1="2002.78" x2="120.6" y2="2002.78" stroke="#1a1a1a" stroke-width="1.2"/>
<text x="109.7" y="2006.38" font-family='"Liberation Sans", sans-serif' font-size="10" font-weight="normal" text-anchor="end" fill="#222" textLength="15" lengthAdjust="spacingAndGlyphs" stroke="#222" stroke-width="0.35">0.8</text>
<line x1="116.4" y1="1963.1" x2="120.6" y2="1963.1" stroke="#1a1a1a" stroke-width="1.2"/>
<text x="109.7" y="1966.7" font-family='"Liberation Sans", sans-serif' font-size="10" font-weight="normal" text-anchor="end" fill="#222" textLength="15" lengthAdjust="spacingAndGlyphs" stroke="#222" stroke-width="0.35">1.0</text>
<line x1="116.4" y1="1923.42" x2="120.6" y2="1923.42" stroke="#1a1a1a" stroke-width="1.2"/>
<text x="109.7" y="1927.02" font-family='"Liberation Sans", sans-serif' font-size="10" font-weight="normal" text-anchor="end" fill="#222" textLength="15" lengthAdjust="spacingAndGlyphs" stroke="#222" stroke-width="0.35">1.2</text>
<line x1="116.4" y1="1883.74" x2="120.6" y2="1883.74" stroke="#1a1a1a" stroke-width="1.2"/>
<text x="109.7" y="1887.34" font-family='"Liberation Sans", sans-serif' font-size="10" font-weight="normal" text-anchor="end" fill="#222" textLength="15" lengthAdjust="spacingAndGlyphs" stroke="#222" stroke-width="0.35">1.4</text>
<path d="M166.4 2161.1 V2141.4 H244.6 V2161.1" fill="#bbbbbb" stroke="#1a1a1a" stroke-width="1.3"/>
<path d="M296.5 2161.1 V1985.8 H374.8 V2161.1" fill="#bbbbbb" stroke="#1a1a1a" stroke-width="1.3"/>
<path d="M427.1 2161.1 V2089.6 H505.4 V2161.1" fill="#bbbbbb" stroke="#1a1a1a" stroke-width="1.3"/>
<line x1="205.5" y1="2141.4" x2="205.5" y2="2132" stroke="#1a1a1a" stroke-width="1.3"/>
<line x1="201.1" y1="2132" x2="209.9" y2="2132" stroke="#1a1a1a" stroke-width="1.3"/>
<line x1="335.6" y1="1985.8" x2="335.6" y2="1928.6" stroke="#1a1a1a" stroke-width="1.3"/>
<line x1="331.2" y1="1928.6" x2="340" y2="1928.6" stroke="#1a1a1a" stroke-width="1.3"/>
<line x1="466.2" y1="2089.6" x2="466.2" y2="2063.6" stroke="#1a1a1a" stroke-width="1.3"/>
<line x1="461.8" y1="2063.6" x2="470.6" y2="2063.6" stroke="#1a1a1a" stroke-width="1.3"/>
<line x1="205.7" y1="2161.1" x2="205.7" y2="2165" stroke="#1a1a1a" stroke-width="1.2"/>
<line x1="335.4" y1="2161.1" x2="335.4" y2="2165" stroke="#1a1a1a" stroke-width="1.2"/>
<line x1="466" y1="2161.1" x2="466" y2="2165" stroke="#1a1a1a" stroke-width="1.2"/>
<text x="338.4" y="1918.3" font-family='"Liberation Serif", serif' font-size="34" font-weight="normal" text-anchor="middle" fill="#000" textLength="13.5" lengthAdjust="spacingAndGlyphs">*</text>
<text x="207.2" y="2192" font-family='"Liberation Serif", serif' font-size="21" font-weight="bold" text-anchor="middle" fill="#000" textLength="38.9" lengthAdjust="spacingAndGlyphs">Ctrl</text>
<text x="336.5" y="2192" font-family='"Liberation Serif", serif' font-size="21" font-weight="bold" text-anchor="middle" fill="#000" textLength="55.9" lengthAdjust="spacingAndGlyphs">TNBS</text>
<text x="463.1" y="2192" font-family='"Liberation Serif", serif' font-size="21" font-weight="bold" text-anchor="middle" fill="#000" textLength="118.6" lengthAdjust="spacingAndGlyphs">TNBS+AS II</text>
<text x="69.5" y="2019.5" font-family='"Liberation Serif", serif' font-size="20" font-weight="bold" text-anchor="middle" fill="#000" textLength="262.5" lengthAdjust="spacingAndGlyphs" transform="rotate(-90 69.5 2019.5)">MPO Activity (Units/mg tissue)</text>
<text x="625" y="37.7" font-family='"Liberation Sans", sans-serif' font-size="39" font-weight="bold" text-anchor="start" fill="#000" textLength="54.7" lengthAdjust="spacingAndGlyphs">(F)</text>
<line x1="754.3" y1="84.85" x2="754.3" y2="377.6" stroke="#1a1a1a" stroke-width="1.3"/>
<line x1="754.3" y1="377.6" x2="1176.8" y2="377.6" stroke="#1a1a1a" stroke-width="1.3"/>
<line x1="750" y1="377.6" x2="754.3" y2="377.6" stroke="#1a1a1a" stroke-width="1.2"/>
<text x="743.3" y="381.2" font-family='"Liberation Sans", sans-serif' font-size="10" font-weight="normal" text-anchor="end" fill="#222" textLength="6" lengthAdjust="spacingAndGlyphs" stroke="#222" stroke-width="0.35">0</text>
<line x1="750" y1="319.05" x2="754.3" y2="319.05" stroke="#1a1a1a" stroke-width="1.2"/>
<text x="743.3" y="322.65" font-family='"Liberation Sans", sans-serif' font-size="10" font-weight="normal" text-anchor="end" fill="#222" textLength="18" lengthAdjust="spacingAndGlyphs" stroke="#222" stroke-width="0.35">200</text>
<line x1="750" y1="260.5" x2="754.3" y2="260.5" stroke="#1a1a1a" stroke-width="1.2"/>
<text x="743.3" y="264.1" font-family='"Liberation Sans", sans-serif' font-size="10" font-weight="normal" text-anchor="end" fill="#222" textLength="18" lengthAdjust="spacingAndGlyphs" stroke="#222" stroke-width="0.35">400</text>
<line x1="750" y1="201.95" x2="754.3" y2="201.95" stroke="#1a1a1a" stroke-width="1.2"/>
<text x="743.3" y="205.55" font-family='"Liberation Sans", sans-serif' font-size="10" font-weight="normal" text-anchor="end" fill="#222" textLength="18" lengthAdjust="spacingAndGlyphs" stroke="#222" stroke-width="0.35">600</text>
<line x1="750" y1="143.4" x2="754.3" y2="143.4" stroke="#1a1a1a" stroke-width="1.2"/>
<text x="743.3" y="147" font-family='"Liberation Sans", sans-serif' font-size="10" font-weight="normal" text-anchor="end" fill="#222" textLength="18" lengthAdjust="spacingAndGlyphs" stroke="#222" stroke-width="0.35">800</text>
<line x1="750" y1="84.85" x2="754.3" y2="84.85" stroke="#1a1a1a" stroke-width="1.2"/>
<text x="743.3" y="88.45" font-family='"Liberation Sans", sans-serif' font-size="10" font-weight="normal" text-anchor="end" fill="#222" textLength="24" lengthAdjust="spacingAndGlyphs" stroke="#222" stroke-width="0.35">1000</text>
<path d="M798.2 377.6 V333.2 H875.4 V377.6" fill="#bbbbbb" stroke="#1a1a1a" stroke-width="1.3"/>
<path d="M926.9 377.6 V201.9 H1004.1 V377.6" fill="#bbbbbb" stroke="#1a1a1a" stroke-width="1.3"/>
<path d="M1055.1 377.6 V284.2 H1131.9 V377.6" fill="#bbbbbb" stroke="#1a1a1a" stroke-width="1.3"/>
<line x1="836.8" y1="333.2" x2="836.8" y2="307.9" stroke="#1a1a1a" stroke-width="1.3"/>
<line x1="832.4" y1="307.9" x2="841.2" y2="307.9" stroke="#1a1a1a" stroke-width="1.3"/>
<line x1="965.5" y1="201.9" x2="965.5" y2="146.4" stroke="#1a1a1a" stroke-width="1.3"/>
<line x1="961.1" y1="146.4" x2="969.9" y2="146.4" stroke="#1a1a1a" stroke-width="1.3"/>
<line x1="1093.5" y1="284.2" x2="1093.5" y2="263" stroke="#1a1a1a" stroke-width="1.3"/>
<line x1="1089.1" y1="263" x2="1097.9" y2="263" stroke="#1a1a1a" stroke-width="1.3"/>
<line x1="838" y1="377.6" x2="838" y2="381.5" stroke="#1a1a1a" stroke-width="1.2"/>
<line x1="965.3" y1="377.6" x2="965.3" y2="381.5" stroke="#1a1a1a" stroke-width="1.2"/>
<line x1="1093" y1="377.6" x2="1093" y2="381.5" stroke="#1a1a1a" stroke-width="1.2"/>
<text x="838.3" y="411.4" font-family='"Liberation Serif", serif' font-size="20.5" font-weight="normal" text-anchor="middle" fill="#000" textLength="65" lengthAdjust="spacingAndGlyphs">Control</text>
<text x="968.1" y="411.4" font-family='"Liberation Serif", serif' font-size="20.5" font-weight="normal" text-anchor="middle" fill="#000" textLength="53" lengthAdjust="spacingAndGlyphs">TNBS</text>
<text x="1105.8" y="411.4" font-family='"Liberation Serif", serif' font-size="20.5" font-weight="normal" text-anchor="middle" fill="#000" textLength="111.6" lengthAdjust="spacingAndGlyphs">TNBS+AS II</text>
<text x="700" y="230.4" font-family='"Liberation Serif", serif' font-size="18.5" font-weight="bold" text-anchor="middle" fill="#000" textLength="284.2" lengthAdjust="spacingAndGlyphs" transform="rotate(-90 700 230.4)">FITC-dextran in serum  (ng/ml)</text>
<text x="627" y="457" font-family='"Liberation Sans", sans-serif' font-size="39" font-weight="bold" text-anchor="start" fill="#000" textLength="59.3" lengthAdjust="spacingAndGlyphs">(G)</text>
<line x1="755.1" y1="478" x2="755.1" y2="766.8" stroke="#1a1a1a" stroke-width="1.3"/>
<line x1="755.1" y1="766.8" x2="1190.4" y2="766.8" stroke="#1a1a1a" stroke-width="1.3"/>
<line x1="750.8" y1="766.8" x2="755.1" y2="766.8" stroke="#1a1a1a" stroke-width="1.2"/>
<text x="744.3" y="770.6" font-family='"Liberation Sans", sans-serif' font-size="10.7" font-weight="normal" text-anchor="end" fill="#222" textLength="6.25" lengthAdjust="spacingAndGlyphs" stroke="#222" stroke-width="0.35">0</text>
<line x1="750.8" y1="709.04" x2="755.1" y2="709.04" stroke="#1a1a1a" stroke-width="1.2"/>
<text x="744.3" y="712.84" font-family='"Liberation Sans", sans-serif' font-size="10.7" font-weight="normal" text-anchor="end" fill="#222" textLength="18.75" lengthAdjust="spacingAndGlyphs" stroke="#222" stroke-width="0.35">200</text>
<line x1="750.8" y1="651.28" x2="755.1" y2="651.28" stroke="#1a1a1a" stroke-width="1.2"/>
<text x="744.3" y="655.08" font-family='"Liberation Sans", sans-serif' font-size="10.7" font-weight="normal" text-anchor="end" fill="#222" textLength="18.75" lengthAdjust="spacingAndGlyphs" stroke="#222" stroke-width="0.35">400</text>
<line x1="750.8" y1="593.52" x2="755.1" y2="593.52" stroke="#1a1a1a" stroke-width="1.2"/>
<text x="744.3" y="597.32" font-family='"Liberation Sans", sans-serif' font-size="10.7" font-weight="normal" text-anchor="end" fill="#222" textLength="18.75" lengthAdjust="spacingAndGlyphs" stroke="#222" stroke-width="0.35">600</text>
<line x1="750.8" y1="535.76" x2="755.1" y2="535.76" stroke="#1a1a1a" stroke-width="1.2"/>
<text x="744.3" y="539.56" font-family='"Liberation Sans", sans-serif' font-size="10.7" font-weight="normal" text-anchor="end" fill="#222" textLength="18.75" lengthAdjust="spacingAndGlyphs" stroke="#222" stroke-width="0.35">800</text>
<line x1="750.8" y1="478" x2="755.1" y2="478" stroke="#1a1a1a" stroke-width="1.2"/>
<text x="744.3" y="481.8" font-family='"Liberation Sans", sans-serif' font-size="10.7" font-weight="normal" text-anchor="end" fill="#222" textLength="25" lengthAdjust="spacingAndGlyphs" stroke="#222" stroke-width="0.35">1000</text>
<path d="M831 766.8 V670.9 H895.6 V766.8" fill="#bbbbbb" stroke="#1a1a1a" stroke-width="1.3"/>
<path d="M939 766.8 V622.4 H1004.7 V766.8" fill="#bbbbbb" stroke="#1a1a1a" stroke-width="1.3"/>
<path d="M1048 766.8 V555.3 H1113.2 V766.8" fill="#bbbbbb" stroke="#1a1a1a" stroke-width="1.3"/>
<line x1="863.3" y1="670.9" x2="863.3" y2="662.3" stroke="#1a1a1a" stroke-width="1.3"/>
<line x1="858.9" y1="662.3" x2="867.7" y2="662.3" stroke="#1a1a1a" stroke-width="1.3"/>
<line x1="971.9" y1="622.4" x2="971.9" y2="603.2" stroke="#1a1a1a" stroke-width="1.3"/>
<line x1="967.5" y1="603.2" x2="976.3" y2="603.2" stroke="#1a1a1a" stroke-width="1.3"/>
<line x1="1080.6" y1="555.3" x2="1080.6" y2="533.1" stroke="#1a1a1a" stroke-width="1.3"/>
<line x1="1076.2" y1="533.1" x2="1085" y2="533.1" stroke="#1a1a1a" stroke-width="1.3"/>
<line x1="863.3" y1="766.8" x2="863.3" y2="770.8" stroke="#1a1a1a" stroke-width="1.2"/>
<line x1="972.3" y1="766.8" x2="972.3" y2="770.8" stroke="#1a1a1a" stroke-width="1.2"/>
<line x1="1080.4" y1="766.8" x2="1080.4" y2="770.8" stroke="#1a1a1a" stroke-width="1.2"/>
<line x1="964.3" y1="501.2" x2="1078.4" y2="501.2" stroke="#6f93c8" stroke-width="1.4"/>
<text x="1029.9" y="490.5" font-family='"Liberation Serif", serif' font-size="28" font-weight="normal" text-anchor="middle" fill="#000">#</text>
<text x="863.6" y="798.6" font-family='"Liberation Sans", sans-serif' font-size="18.3" font-weight="bold" text-anchor="middle" fill="#000" textLength="32.8" lengthAdjust="spacingAndGlyphs">Ctrl</text>
<text x="974.6" y="798.6" font-family='"Liberation Sans", sans-serif' font-size="18.3" font-weight="bold" text-anchor="middle" fill="#000" textLength="48" lengthAdjust="spacingAndGlyphs">TNBS</text>
<text x="1089.5" y="798.6" font-family='"Liberation Sans", sans-serif' font-size="18.3" font-weight="bold" text-anchor="middle" fill="#000" textLength="99" lengthAdjust="spacingAndGlyphs">TNBS+AS II</text>
<text x="668.5" y="620.2" font-family='"Liberation Serif", serif' font-size="20.5" font-weight="bold" text-anchor="middle" fill="#000" textLength="200.4" lengthAdjust="spacingAndGlyphs" transform="rotate(-90 668.5 620.2)">Tissue L-Arg uptake</text>
<text x="698.5" y="620.2" font-family='"Liberation Serif", serif' font-size="20.5" font-weight="bold" text-anchor="middle" transform="rotate(-90 698.5 620.2)" textLength="253.9" lengthAdjust="spacingAndGlyphs">(pmol*mg protein<tspan dy="-8.61" font-size="12.71">-1</tspan><tspan dy="8.61">*min</tspan><tspan dy="-8.61" font-size="12.71">-1</tspan><tspan dy="8.61">)</tspan></text>
<text x="628.2" y="830.6" font-family='"Liberation Sans", sans-serif' font-size="39" font-weight="bold" text-anchor="start" fill="#000" textLength="58" lengthAdjust="spacingAndGlyphs">(H)</text>
<line x1="753.5" y1="835.38" x2="753.5" y2="1120.6" stroke="#1a1a1a" stroke-width="1.3"/>
<line x1="753.5" y1="1120.6" x2="1189.4" y2="1120.6" stroke="#1a1a1a" stroke-width="1.3"/>
<line x1="748.9" y1="1120.6" x2="753.5" y2="1120.6" stroke="#1a1a1a" stroke-width="1.2"/>
<text x="742" y="1124.7" font-family='"Liberation Sans", sans-serif' font-size="11.4" font-weight="normal" text-anchor="end" fill="#222" textLength="6.5" lengthAdjust="spacingAndGlyphs" stroke="#222" stroke-width="0.35">0</text>
<line x1="748.9" y1="1079.86" x2="753.5" y2="1079.86" stroke="#1a1a1a" stroke-width="1.2"/>
<text x="742" y="1083.95" font-family='"Liberation Sans", sans-serif' font-size="11.4" font-weight="normal" text-anchor="end" fill="#222" textLength="13" lengthAdjust="spacingAndGlyphs" stroke="#222" stroke-width="0.35">50</text>
<line x1="748.9" y1="1039.11" x2="753.5" y2="1039.11" stroke="#1a1a1a" stroke-width="1.2"/>
<text x="742" y="1043.21" font-family='"Liberation Sans", sans-serif' font-size="11.4" font-weight="normal" text-anchor="end" fill="#222" textLength="19.5" lengthAdjust="spacingAndGlyphs" stroke="#222" stroke-width="0.35">100</text>
<line x1="748.9" y1="998.36" x2="753.5" y2="998.36" stroke="#1a1a1a" stroke-width="1.2"/>
<text x="742" y="1002.46" font-family='"Liberation Sans", sans-serif' font-size="11.4" font-weight="normal" text-anchor="end" fill="#222" textLength="19.5" lengthAdjust="spacingAndGlyphs" stroke="#222" stroke-width="0.35">150</text>
<line x1="748.9" y1="957.62" x2="753.5" y2="957.62" stroke="#1a1a1a" stroke-width="1.2"/>
<text x="742" y="961.72" font-family='"Liberation Sans", sans-serif' font-size="11.4" font-weight="normal" text-anchor="end" fill="#222" textLength="19.5" lengthAdjust="spacingAndGlyphs" stroke="#222" stroke-width="0.35">200</text>
<line x1="748.9" y1="916.87" x2="753.5" y2="916.87" stroke="#1a1a1a" stroke-width="1.2"/>
<text x="742" y="920.97" font-family='"Liberation Sans", sans-serif' font-size="11.4" font-weight="normal" text-anchor="end" fill="#222" textLength="19.5" lengthAdjust="spacingAndGlyphs" stroke="#222" stroke-width="0.35">250</text>
<line x1="748.9" y1="876.13" x2="753.5" y2="876.13" stroke="#1a1a1a" stroke-width="1.2"/>
<text x="742" y="880.23" font-family='"Liberation Sans", sans-serif' font-size="11.4" font-weight="normal" text-anchor="end" fill="#222" textLength="19.5" lengthAdjust="spacingAndGlyphs" stroke="#222" stroke-width="0.35">300</text>
<line x1="748.9" y1="835.38" x2="753.5" y2="835.38" stroke="#1a1a1a" stroke-width="1.2"/>
<text x="742" y="839.49" font-family='"Liberation Sans", sans-serif' font-size="11.4" font-weight="normal" text-anchor="end" fill="#222" textLength="19.5" lengthAdjust="spacingAndGlyphs" stroke="#222" stroke-width="0.35">350</text>
<path d="M830 1120.6 V958.1 H895.1 V1120.6" fill="#bbbbbb" stroke="#1a1a1a" stroke-width="1.3"/>
<path d="M938 1120.6 V935.4 H1003.6 V1120.6" fill="#bbbbbb" stroke="#1a1a1a" stroke-width="1.3"/>
<path d="M1047 1120.6 V903.1 H1113.2 V1120.6" fill="#bbbbbb" stroke="#1a1a1a" stroke-width="1.3"/>
<line x1="862.5" y1="958.1" x2="862.5" y2="947.5" stroke="#1a1a1a" stroke-width="1.3"/>
<line x1="858.1" y1="947.5" x2="866.9" y2="947.5" stroke="#1a1a1a" stroke-width="1.3"/>
<line x1="970.8" y1="935.4" x2="970.8" y2="912.7" stroke="#1a1a1a" stroke-width="1.3"/>
<line x1="966.4" y1="912.7" x2="975.2" y2="912.7" stroke="#1a1a1a" stroke-width="1.3"/>
<line x1="1080.1" y1="903.1" x2="1080.1" y2="882.9" stroke="#1a1a1a" stroke-width="1.3"/>
<line x1="1075.7" y1="882.9" x2="1084.5" y2="882.9" stroke="#1a1a1a" stroke-width="1.3"/>
<line x1="862.3" y1="1120.6" x2="862.3" y2="1124.6" stroke="#1a1a1a" stroke-width="1.2"/>
<line x1="970.8" y1="1120.6" x2="970.8" y2="1124.6" stroke="#1a1a1a" stroke-width="1.2"/>
<line x1="1079.9" y1="1120.6" x2="1079.9" y2="1124.6" stroke="#1a1a1a" stroke-width="1.2"/>
<text x="860.8" y="1152.4" font-family='"Liberation Sans", sans-serif' font-size="18.3" font-weight="bold" text-anchor="middle" fill="#000" textLength="30.4" lengthAdjust="spacingAndGlyphs">Ctrl</text>
<text x="972" y="1152.4" font-family='"Liberation Sans", sans-serif' font-size="18.3" font-weight="bold" text-anchor="middle" fill="#000" textLength="42.9" lengthAdjust="spacingAndGlyphs">TNBS</text>
<text x="1084.9" y="1152.4" font-family='"Liberation Sans", sans-serif' font-size="18.3" font-weight="bold" text-anchor="middle" fill="#000" textLength="91.8" lengthAdjust="spacingAndGlyphs">TNBS+AS II</text>
<text x="682" y="965" font-family='"Liberation Serif", serif' font-size="20.5" font-weight="bold" text-anchor="middle" fill="#000" textLength="200.9" lengthAdjust="spacingAndGlyphs" transform="rotate(-90 682 965)">Tissue L-Arg uptake</text>
<text x="708.5" y="965" font-family='"Liberation Serif", serif' font-size="20.5" font-weight="bold" text-anchor="middle" transform="rotate(-90 708.5 965)" textLength="255.5" lengthAdjust="spacingAndGlyphs">(pmol*mg protein<tspan dy="-8.61" font-size="12.71">-1</tspan><tspan dy="8.61">*min</tspan><tspan dy="-8.61" font-size="12.71">-1</tspan><tspan dy="8.61">)</tspan></text>
<text x="630.8" y="1212.6" font-family='"Liberation Sans", sans-serif' font-size="39" font-weight="bold" text-anchor="start" fill="#000" textLength="40.2" lengthAdjust="spacingAndGlyphs">(I)</text>
<defs><filter id="bl2" x="-30%" y="-100%" width="160%" height="300%"><feGaussianBlur stdDeviation="2.2 1.6"/></filter><filter id="bl3" x="-30%" y="-100%" width="160%" height="300%"><feGaussianBlur stdDeviation="4 3"/></filter><filter id="bl1" x="-30%" y="-100%" width="160%" height="300%"><feGaussianBlur stdDeviation="1.2 0.9"/></filter><clipPath id="cI1"><rect x="738" y="1273" width="470" height="37"/></clipPath><clipPath id="cI2"><rect x="738" y="1326.8" width="470" height="41.5"/></clipPath><clipPath id="cI3"><rect x="738" y="1391.5" width="470" height="63"/></clipPath><clipPath id="cJ1"><rect x="737.5" y="1574" width="502" height="49"/></clipPath><clipPath id="cJ2"><rect x="737.5" y="1638.5" width="502" height="69"/></clipPath><linearGradient id="gI1" x1="0" x2="1" y1="0" y2="0"><stop offset="0" stop-color="#d0d0d0"/><stop offset="0.5" stop-color="#d8d8d8"/><stop offset="1" stop-color="#e2e2e2"/></linearGradient><linearGradient id="gJ1" x1="0" x2="1" y1="0" y2="0"><stop offset="0" stop-color="#b8b8b8"/><stop offset="0.3" stop-color="#a4a4a4"/><stop offset="0.6" stop-color="#9a9a9a"/><stop offset="1" stop-color="#a8a8a8"/></linearGradient></defs>
<text x="826" y="1231.3" font-family='"Liberation Sans", sans-serif' font-size="19.5" font-weight="normal" text-anchor="middle" fill="#111" textLength="28.7" lengthAdjust="spacingAndGlyphs" stroke="#111" stroke-width="0.6">Ctrl</text>
<text x="1018" y="1231.3" font-family='"Liberation Sans", sans-serif' font-size="19.5" font-weight="normal" text-anchor="middle" fill="#111" textLength="44" lengthAdjust="spacingAndGlyphs" stroke="#111" stroke-width="0.6">TNBS</text>
<text x="1162.6" y="1228.5" font-family='"Liberation Sans", sans-serif' font-size="19.5" font-weight="normal" text-anchor="middle" fill="#111" textLength="91" lengthAdjust="spacingAndGlyphs" stroke="#111" stroke-width="0.6">TNBS+AS II</text>
<line x1="737.1" y1="1254.3" x2="914.3" y2="1254.3" stroke="#111" stroke-width="3.6"/>
<line x1="936" y1="1254.3" x2="1099.6" y2="1254.3" stroke="#111" stroke-width="3.6"/>
<line x1="1118.2" y1="1254.3" x2="1207.1" y2="1254.3" stroke="#111" stroke-width="3.6"/>
<text x="694.9" y="1299.4" font-family='"Liberation Sans", sans-serif' font-size="19.5" font-weight="normal" text-anchor="middle" fill="#111" textLength="47" lengthAdjust="spacingAndGlyphs" stroke="#111" stroke-width="0.6">CAT-1</text>
<text x="694.9" y="1354.8" font-family='"Liberation Sans", sans-serif' font-size="19.5" font-weight="normal" text-anchor="middle" fill="#111" textLength="47" lengthAdjust="spacingAndGlyphs" stroke="#111" stroke-width="0.6">CAT-2</text>
<text x="692.5" y="1439.5" font-family='"Liberation Sans", sans-serif' font-size="19.5" font-weight="normal" text-anchor="middle" fill="#111" textLength="44" lengthAdjust="spacingAndGlyphs" stroke="#111" stroke-width="0.6">Actin</text>
<rect x="738" y="1273" width="470" height="37" fill="url(#gI1)" stroke="none" stroke-width="1"/>
<g clip-path="url(#cI1)">
<ellipse cx="787.5" cy="1293" rx="29.5" ry="5.5" fill="#bcbcbc" filter="url(#bl2)"/>
<ellipse cx="874.5" cy="1293" rx="30.5" ry="5.5" fill="#c0c0c0" filter="url(#bl2)"/>
<ellipse cx="972.5" cy="1293" rx="34.5" ry="5.5" fill="#a4a4a4" filter="url(#bl2)"/>
<ellipse cx="1064.5" cy="1293" rx="32.5" ry="5.5" fill="#a8a8a8" filter="url(#bl2)"/>
<ellipse cx="1160" cy="1293" rx="32" ry="6" fill="#7a7a7a" filter="url(#bl2)"/>
<ellipse cx="1160" cy="1293.3" rx="24" ry="3.2" fill="#000" filter="url(#bl2)"/>
</g>
<rect x="737.1" y="1272.5" width="472.4" height="38" fill="none" stroke="#111" stroke-width="3"/>
<rect x="738" y="1326.8" width="470" height="41.5" fill="#e9e9e9" stroke="none" stroke-width="1"/>
<g clip-path="url(#cI2)">
<ellipse cx="782.5" cy="1359" rx="25.5" ry="3" fill="#cdcdcd" filter="url(#bl2)"/>
<ellipse cx="865" cy="1362" rx="25" ry="2.5" fill="#c0c0c0" filter="url(#bl2)"/>
<ellipse cx="856.5" cy="1366" rx="13.5" ry="1.5" fill="#555" filter="url(#bl2)"/>
<ellipse cx="971.5" cy="1357" rx="28.5" ry="3" fill="#aaaaaa" filter="url(#bl2)"/>
<ellipse cx="972.5" cy="1365" rx="27.5" ry="2" fill="#777" filter="url(#bl2)"/>
<ellipse cx="1062.5" cy="1357" rx="31.5" ry="4" fill="#8a8a8a" filter="url(#bl2)"/>
<ellipse cx="1062.5" cy="1365" rx="31.5" ry="2.5" fill="#222" filter="url(#bl2)"/>
<ellipse cx="1154.5" cy="1357" rx="27.5" ry="6" fill="#0a0a0a" filter="url(#bl2)"/>
</g>
<rect x="737.1" y="1325.5" width="472.4" height="43.9" fill="none" stroke="#111" stroke-width="3"/>
<rect x="738" y="1391.5" width="470" height="63" fill="#e8e8e8" stroke="none" stroke-width="1"/>
<g clip-path="url(#cI3)">
<rect x="751.5" y="1421.5" width="72.5" height="11.5" rx="9" ry="5.5" fill="#0a0a0a" filter="url(#bl1)"/>
<rect x="837.6" y="1421.5" width="82.2" height="11.5" rx="9" ry="5.5" fill="#0a0a0a" filter="url(#bl1)"/>
<rect x="931.6" y="1421.5" width="78.2" height="11.5" rx="9" ry="5.5" fill="#0a0a0a" filter="url(#bl1)"/>
<rect x="1029.4" y="1421.5" width="74.4" height="11.5" rx="9" ry="5.5" fill="#0a0a0a" filter="url(#bl1)"/>
<rect x="1121.4" y="1421.5" width="62.6" height="11.5" rx="9" ry="5.5" fill="#0a0a0a" filter="url(#bl1)"/>
<ellipse cx="1192" cy="1432" rx="6" ry="10" fill="#c8c8c8" filter="url(#bl2)"/>
</g>
<rect x="737.1" y="1390.5" width="472.4" height="65.5" fill="none" stroke="#111" stroke-width="3"/>
<text x="630" y="1501.5" font-family='"Liberation Sans", sans-serif' font-size="39" font-weight="bold" text-anchor="start" fill="#000" textLength="51.3" lengthAdjust="spacingAndGlyphs">(J)</text>
<line x1="636.4" y1="1508" x2="636.4" y2="1720" stroke="#d4dbe6" stroke-width="1"/>
<text x="781.5" y="1529.6" font-family='"Liberation Sans", sans-serif' font-size="19.5" font-weight="bold" text-anchor="middle" fill="#111" textLength="38.3" lengthAdjust="spacingAndGlyphs">Ctrl</text>
<text x="907.2" y="1529.6" font-family='"Liberation Sans", sans-serif' font-size="19.5" font-weight="bold" text-anchor="middle" fill="#111" textLength="56.5" lengthAdjust="spacingAndGlyphs">TNBS</text>
<text x="1122.7" y="1529.6" font-family='"Liberation Sans", sans-serif' font-size="19.5" font-weight="bold" text-anchor="middle" fill="#111" textLength="117" lengthAdjust="spacingAndGlyphs">TNBS+AS II</text>
<line x1="743.7" y1="1554.6" x2="817.9" y2="1554.6" stroke="#111" stroke-width="3.8"/>
<line x1="840.6" y1="1554.6" x2="971.8" y2="1554.6" stroke="#111" stroke-width="3.8"/>
<line x1="1002.1" y1="1554.6" x2="1238.4" y2="1554.6" stroke="#111" stroke-width="3.8"/>
<text x="673" y="1609.5" font-family='"Liberation Sans", sans-serif' font-size="20" font-weight="bold" text-anchor="middle" fill="#111" textLength="60.6" lengthAdjust="spacingAndGlyphs">CAT-1</text>
<text x="672" y="1681.5" font-family='"Liberation Sans", sans-serif' font-size="20" font-weight="bold" text-anchor="middle" fill="#111" textLength="55.6" lengthAdjust="spacingAndGlyphs">Actin</text>
<rect x="737.5" y="1574" width="502" height="49" fill="#828282" stroke="none" stroke-width="1"/>
<g clip-path="url(#cJ1)">
<g filter="url(#bl3)">
<rect x="730" y="1570" width="32" height="60" fill="#c8c8c8"/>
<rect x="1212" y="1570" width="35" height="60" fill="#a8a8a8"/>
<rect x="900" y="1600" width="30" height="25" fill="#9a9a9a"/>
<rect x="990" y="1600" width="80" height="25" fill="#7a7a7a"/>
<ellipse cx="788" cy="1598" rx="24" ry="24" fill="#505050"/>
<ellipse cx="865" cy="1588" rx="28" ry="9" fill="#5a5a5a"/>
<ellipse cx="860" cy="1617" rx="22" ry="6" fill="#505050"/>
<ellipse cx="948" cy="1598" rx="32" ry="16" fill="#4a4a4a"/>
<ellipse cx="1036" cy="1592" rx="30" ry="12" fill="#5a5a5a"/>
<rect x="1140" y="1598" width="22" height="28" fill="#9c9c9c"/>
</g>
<path d="M835 1614 C855 1610 880 1600 905 1585" stroke="#a6a6a6" stroke-width="5" fill="none" filter="url(#bl2)"/>
<ellipse cx="789" cy="1604.5" rx="16.5" ry="9.5" fill="#050505" filter="url(#bl2)"/>
<ellipse cx="948" cy="1599" rx="24" ry="9" fill="#1a1a1a" filter="url(#bl2)"/>
<ellipse cx="1036" cy="1592" rx="22" ry="5.5" fill="#262626" filter="url(#bl2)"/>
<rect x="1084" y="1570" width="57" height="48" rx="10" fill="#020202" filter="url(#bl2)"/>
<path d="M1158 1570 L1200 1570 C1210 1585 1215 1598 1212 1608 C1205 1614 1185 1614 1170 1610 C1160 1605 1155 1590 1158 1570 Z" fill="#040404" filter="url(#bl2)"/>
</g>
<rect x="736.2" y="1572.5" width="504.6" height="51.9" fill="none" stroke="#0a0a0a" stroke-width="3.6"/>
<rect x="737.5" y="1638.5" width="502" height="69" fill="#cfcfcf" stroke="none" stroke-width="1"/>
<g clip-path="url(#cJ2)">
<rect x="748.7" y="1663.5" width="70.6" height="20.5" rx="14" ry="10" fill="#050505" filter="url(#bl1)"/>
<rect x="831.7" y="1663.5" width="70.6" height="20.5" rx="14" ry="10" fill="#050505" filter="url(#bl1)"/>
<rect x="914.8" y="1663.5" width="76.8" height="20.5" rx="14" ry="10" fill="#050505" filter="url(#bl1)"/>
<rect x="1002" y="1663.5" width="70.6" height="20.5" rx="14" ry="10" fill="#050505" filter="url(#bl1)"/>
<rect x="1082" y="1663.5" width="67.4" height="20.5" rx="14" ry="10" fill="#050505" filter="url(#bl1)"/>
<rect x="1161.9" y="1663.5" width="68.5" height="20.5" rx="14" ry="10" fill="#050505" filter="url(#bl1)"/>
</g>
<rect x="736.2" y="1636.8" width="504.6" height="71.9" fill="none" stroke="#0a0a0a" stroke-width="3.6"/>
<text x="627.1" y="1770.9" font-family='"Liberation Sans", sans-serif' font-size="39" font-weight="bold" text-anchor="start" fill="#000" textLength="58.5" lengthAdjust="spacingAndGlyphs">(K)</text>
<defs><filter id="hb" x="-5%" y="-5%" width="110%" height="110%"><feGaussianBlur stdDeviation="0.8"/></filter><filter id="hb2" x="-5%" y="-5%" width="110%" height="110%"><feGaussianBlur stdDeviation="1.5"/></filter><pattern id="crypt" width="6" height="6" patternUnits="userSpaceOnUse"><rect width="6" height="6" fill="#5a3cb0"/><circle cx="2" cy="2" r="1.1" fill="#b4a4e4"/><circle cx="5" cy="5" r="0.9" fill="#9a86d8"/></pattern><pattern id="crypt2" width="7" height="7" patternUnits="userSpaceOnUse"><rect width="7" height="7" fill="#6a4cbc"/><ellipse cx="2" cy="3" rx="1.2" ry="2.4" fill="#c4b8ec"/><ellipse cx="5.5" cy="4" rx="0.9" ry="2" fill="#a898e0"/></pattern><pattern id="crypt3" width="9" height="9" patternUnits="userSpaceOnUse"><rect width="9" height="9" fill="#6244b8"/><circle cx="3" cy="3" r="2.1" fill="#e4dcf6"/><circle cx="7.5" cy="7.5" r="1.4" fill="#b8a8e4"/></pattern><clipPath id="k11"><rect x="755" y="1792" width="238.6" height="155.7"/></clipPath><clipPath id="k12"><rect x="1017" y="1793.3" width="214.4" height="158"/></clipPath><clipPath id="k21"><rect x="755.6" y="1959.4" width="238" height="156.3"/></clipPath><clipPath id="k22"><rect x="1017" y="1961.4" width="213.5" height="156.2"/></clipPath><clipPath id="k31"><rect x="756" y="2128" width="237.6" height="156.7"/></clipPath><clipPath id="k32"><rect x="1018.3" y="2130" width="212.2" height="158.1"/></clipPath></defs>
<path d="M754 1746.5 H1226 M754 1780.4 H1226 M754 1746.5 V1780.4" stroke="#e2e2e2" stroke-width="1.2" fill="none"/>
<text x="782.5" y="1771.4" font-family='"Liberation Sans", sans-serif' font-size="19.5" font-weight="bold" text-anchor="middle" fill="#111" textLength="35" lengthAdjust="spacingAndGlyphs">40X</text>
<text x="1044" y="1771.4" font-family='"Liberation Sans", sans-serif' font-size="19.5" font-weight="bold" text-anchor="middle" fill="#111" textLength="45.4" lengthAdjust="spacingAndGlyphs">100X</text>
<text x="698.2" y="1894" font-family='"Liberation Sans", sans-serif' font-size="19.5" font-weight="bold" text-anchor="middle" fill="#111" textLength="67.6" lengthAdjust="spacingAndGlyphs">Control</text>
<text x="708" y="2028.5" font-family='"Liberation Sans", sans-serif' font-size="19.5" font-weight="bold" text-anchor="middle" fill="#111" textLength="47.9" lengthAdjust="spacingAndGlyphs">TNBS</text>
<text x="681.5" y="2167" font-family='"Liberation Sans", sans-serif' font-size="19.5" font-weight="bold" text-anchor="middle" fill="#111" textLength="100.9" lengthAdjust="spacingAndGlyphs">TNBS+AS II</text>
<defs><pattern id="cr40" width="5" height="5" patternUnits="userSpaceOnUse"><rect width="5" height="5" fill="#4c32a6"/><circle cx="1.5" cy="1.5" r="0.9" fill="#a898e0"/><circle cx="4" cy="3.8" r="0.7" fill="#8a74d0"/></pattern><pattern id="cr100" width="6" height="6" patternUnits="userSpaceOnUse" patternTransform="rotate(35)"><rect width="6" height="6" fill="#5a40b2"/><rect x="0" y="1" width="6" height="1.3" fill="#c0b4ea"/><rect x="0" y="4" width="6" height="0.8" fill="#8e7cd4"/></pattern><pattern id="cr100b" width="8" height="8" patternUnits="userSpaceOnUse"><rect width="8" height="8" fill="#5a3cb0"/><ellipse cx="3" cy="3" rx="2" ry="1.6" fill="#e8e2f6"/><circle cx="7" cy="7" r="1" fill="#a08ee0"/></pattern><pattern id="cr40b" width="5" height="5" patternUnits="userSpaceOnUse"><rect width="5" height="5" fill="#5e44ae"/><circle cx="1.5" cy="1.5" r="1" fill="#b0a2e2"/><circle cx="4" cy="3.8" r="0.8" fill="#9482d6"/></pattern><pattern id="cr100c" width="7" height="7" patternUnits="userSpaceOnUse"><rect width="7" height="7" fill="#6a48b8"/><circle cx="2" cy="2" r="1.2" fill="#b8a4e4"/><circle cx="5.5" cy="5" r="0.8" fill="#9a84d8"/></pattern></defs>
<g clip-path="url(#k11)">
<rect x="755" y="1792" width="238.6" height="155.7" fill="#d9dbe0" stroke="none" stroke-width="1"/>
<g filter="url(#hb)">
<path d="M800.5 1872 C799 1830 830 1796 872 1794 C905 1792 935 1806 950 1830 C958 1845 960 1860 958 1880 C956 1905 945 1925 925 1936 C905 1946 880 1946 858 1942 C830 1936 802 1910 800.5 1872 Z" fill="#c98ad0" stroke="#9058c0" stroke-width="1.6"/>
<ellipse cx="879.8" cy="1865" rx="61" ry="59" fill="#e4d8f2"/>
<ellipse cx="879.8" cy="1865" rx="59.5" ry="57.5" fill="url(#cr40)"/>
<path d="M836 1851 L850 1859 L862 1862 L882 1865 L890 1861 L904 1856 L910 1853 L916 1865 L921 1873 M904 1856 L908 1843 M882 1865 L878 1851 L876 1837 L874 1825 L882 1820 L894 1819 L902 1825 M882 1865 L880 1885 L870 1893 L860 1894 L858 1905 M880 1885 L894 1891 L900 1899 L898 1911 M836 1885 L850 1891 L860 1894" fill="none" stroke="#eef0f2" stroke-width="3.4" stroke-linecap="round" stroke-linejoin="round"/>
<path d="M838 1851 L850 1857 L862 1860 L882 1864" fill="none" stroke="#eef0f2" stroke-width="5.5" stroke-linecap="round"/>
</g></g>
<g clip-path="url(#k12)">
<rect x="1017" y="1793.3" width="214.4" height="158" fill="#e6eae2" stroke="none" stroke-width="1"/>
<g filter="url(#hb)">
<path d="M1017 1793 H1214 C1224 1815 1228 1840 1227 1860 C1225 1890 1215 1925 1203 1952 H1017 Z" fill="#d6a8d6" stroke="none" stroke-width="1"/>
<path d="M1017 1793 H1190 C1198 1815 1203 1845 1200 1875 C1197 1905 1188 1930 1176 1952 H1040 C1030 1946 1022 1942 1017 1938 Z" fill="#ece6f2" stroke="none" stroke-width="1"/>
<path d="M1017 1793 H1186 C1194 1815 1199 1840 1197 1870 C1194 1900 1185 1930 1172 1952 H1042 C1032 1946 1023 1942 1017 1938 Z" fill="url(#cr100)" stroke="none" stroke-width="1"/>
<path d="M1017 1824 L1047 1836 L1071 1846 L1093 1846 M1093 1846 L1106 1828 L1113 1824 L1128 1822 L1146 1813 L1150 1793 M1087 1794 L1098 1822 M1093 1846 L1091 1862 L1096 1888 L1065 1910 L1063 1932 L1072 1952 M1096 1888 L1131 1910 L1129 1947 M1131 1910 L1161 1903 L1190 1884 M1065 1910 L1038 1903 L1017 1895 M1091 1862 L1120 1871 L1166 1880 L1194 1880" fill="none" stroke="#eef0f2" stroke-width="3.4" stroke-linecap="round" stroke-linejoin="round"/>
<path d="M1017 1826 L1047 1837 L1071 1846 L1093 1846" fill="none" stroke="#eef0f2" stroke-width="6" stroke-linecap="round" stroke-linejoin="round"/>
<path d="M1105 1829 L1146 1814 L1150 1831 L1168 1862 L1157 1846 L1139 1836 L1113 1838 Z" fill="#dfe4ec" stroke="none" stroke-width="1"/>
</g></g>
<g clip-path="url(#k21)">
<rect x="755.6" y="1959.4" width="238" height="156.3" fill="#d9dbe0" stroke="none" stroke-width="1"/>
<g filter="url(#hb)">
<path d="M780 2039 C782 2020 795 2000 810 1991 C830 1976 850 1968 870 1967 C895 1966 915 1972 930 1981 C955 1996 968 2020 970.6 2049 C972 2070 968 2085 959.7 2094.8 C948 2108 932 2113.7 913.7 2113.7 C895 2113 872 2102 849.8 2092.8 C830 2085 812 2080 800 2074.8 C787 2066 779 2054 780 2039 Z" fill="#d07cc8" stroke="#9a4cb0" stroke-width="1.5"/>
<path d="M790 2040 C792 2022 805 2006 818 1998 C835 1988 852 1982 870 1981 C893 1980 912 1986 925 1994 C945 2008 956 2028 958 2050 C959 2068 955 2080 948 2088 C938 2098 925 2101 912 2101 C895 2100 875 2092 855 2084 C835 2077 818 2072 806 2067 C795 2060 789 2052 790 2040 Z" fill="#7a64bc" stroke="none" stroke-width="1"/>
<path d="M796 2040 C798 2024 810 2010 822 2003 C838 1994 854 1989 870 1988 C891 1987 908 1993 920 2000 C938 2013 948 2031 950 2050 C951 2066 947 2077 941 2084 C932 2092 922 2094 911 2094 C895 2093 877 2086 858 2078 C839 2071 822 2066 811 2061 C801 2055 795 2049 796 2040 Z" fill="url(#cr40b)" stroke="none" stroke-width="1"/>
<path d="M814 2031 L828 2030 L840 2021 L854 2013 L862 2022 L870 2016 L880 2023 L890 2019 L898 2012 L906 2025 L914 2024 L922 2039 L930 2046 L935.7 2059 L923.7 2063 L909.7 2057 L900 2060 L889.8 2055 L877.8 2059 L869.8 2067 L865.8 2074.8 L861.8 2067 L854 2058 L845.8 2049 L838 2046 L829.9 2041 L822 2046 L816 2040 Z" fill="#eeeff3" stroke="none" stroke-width="1"/>
<ellipse cx="870" cy="1964" rx="14" ry="5" fill="#6a50b0"/>
</g></g>
<g clip-path="url(#k22)">
<rect x="1017" y="1961.4" width="213.5" height="156.2" fill="#d2d6da" stroke="none" stroke-width="1"/>
<g filter="url(#hb)">
<path d="M1017 1961 H1210 C1216 1975 1220 1990 1223 2005 C1227 2025 1230 2045 1231 2118 H1017 Z" fill="#c890cc" stroke="none" stroke-width="1"/>
<path d="M1017 1961 H1166 C1175 1975 1182 1985 1186 1995 C1195 2015 1202 2035 1204 2060 C1208 2080 1212 2100 1214 2118 H1017 Z" fill="#a898c8" stroke="none" stroke-width="1"/>
<path d="M1017 1961 H1160 C1168 1975 1175 1985 1180 1995 C1188 2015 1194 2035 1197 2060 C1200 2080 1203 2100 1204 2118 H1017 Z" fill="url(#cr100c)" stroke="none" stroke-width="1"/>
<path d="M1017 1988 L1028 1988 L1038 1992 L1056 2003 L1074 2010 L1090 2016 L1102 2021 L1120 2023 L1135 2025 L1150 2036 L1142 2043 L1135 2058 L1131 2080 L1124 2069 L1113 2062 L1098 2063 L1074 2069 L1056 2080 L1038 2098 L1028 2118 L1017 2118 Z" fill="#e4e2ec" stroke="none" stroke-width="1"/>
<ellipse cx="1060" cy="2040" rx="14" ry="9" fill="#9a88c8" opacity="0.7"/>
<ellipse cx="1090" cy="2045" rx="10" ry="6" fill="#a898cc" opacity="0.6"/>
</g></g>
<g clip-path="url(#k31)">
<rect x="756" y="2128" width="237.6" height="156.7" fill="#dcdee3" stroke="none" stroke-width="1"/>
<g filter="url(#hb)">
<path d="M786.4 2213 C787 2195 794 2178 804 2166.7 C815 2152 828 2142 843.9 2136.4 C860 2133 876 2136 891.8 2139.6 C910 2144 926 2150 939.7 2158.8 C955 2170 966 2182 971.7 2193.9 C975 2205 975 2215 973.3 2225.8 C972 2238 969 2247 963.7 2254.6 C957 2266 950 2273 939.7 2277 C928 2280 918 2279 907.8 2277 C895 2275 885 2272 875.8 2269 C865 2266 855 2263 843.9 2261 C832 2258 822 2256 812 2251.4 C802 2246 796 2242 792.8 2235.4 C789 2228 786.5 2222 786.4 2213 Z" fill="#c98ad0" stroke="#9060c0" stroke-width="1.4"/>
<path d="M796 2212 C797 2196 803 2182 811 2172 C821 2159 833 2151 847 2147 C862 2144 877 2146 892 2150 C908 2154 922 2160 934 2168 C948 2179 957 2190 961 2200 C963 2210 963 2220 961 2230 C959 2241 955 2250 948 2258 C940 2265 932 2268 922 2268 C908 2267 895 2264 880 2259 C866 2255 853 2252 840 2250 C827 2247 816 2243 808 2237 C800 2231 796 2222 796 2212 Z" fill="#ece6f4" stroke="none" stroke-width="1"/>
<path d="M798 2212 C799 2197 805 2184 813 2174 C822 2162 834 2154 848 2150 C862 2147 877 2149 891 2153 C906 2157 920 2163 932 2171 C945 2181 954 2191 958 2201 C960 2211 960 2220 958 2230 C956 2240 952 2248 946 2255 C939 2262 931 2265 922 2265 C908 2264 895 2261 881 2256 C867 2252 854 2249 841 2247 C829 2244 818 2240 810 2234 C802 2228 798 2220 798 2212 Z" fill="url(#cr40)" stroke="none" stroke-width="1"/>
<path d="M876 2183 L892 2170 M892 2216 L932 2229 M889 2223 L895 2247 L901 2258 M855 2207 L828 2200 L812 2207 M852 2219 L828 2234 L812 2242 M855 2194 L836 2183 L828 2172 M863 2183 L855 2156 M889 2194 L932 2199 L940 2194 M836 2183 L818 2178 M895 2247 L915 2250 M932 2229 L948 2240 M855 2156 L868 2150" fill="none" stroke="#eef0f2" stroke-width="3.6" stroke-linecap="round" stroke-linejoin="round"/>
<path d="M850 2186 L866 2179 L880 2181 L893 2190 L896 2205 L892 2220 L880 2226 L866 2224 L852 2218 L846 2202 Z" fill="#eceef2" stroke="none" stroke-width="1"/>
</g></g>
<g clip-path="url(#k32)">
<rect x="1018.3" y="2130" width="212.2" height="158.1" fill="#f8f8fb" stroke="none" stroke-width="1"/>
<g filter="url(#hb)">
<path d="M1140 2130 H1201 C1208 2140 1214 2152 1220 2165 C1226 2180 1229 2200 1230.5 2235 L1230.5 2288 H1160 C1180 2275 1200 2255 1205 2235 C1210 2210 1200 2180 1185 2160 C1175 2148 1160 2138 1140 2130 Z" fill="#dca6d8" stroke="none" stroke-width="1"/>
<path d="M1046 2169 C1055 2155 1070 2148 1083 2145 C1100 2138 1118 2132 1140 2131 L1170 2131 C1180 2142 1190 2152 1198 2165 C1206 2180 1210 2200 1210 2220 C1208 2245 1198 2265 1185 2277 C1178 2282 1172 2286 1166 2288 L1041 2288 C1039 2268 1040 2248 1046 2234 Z" fill="url(#cr100b)" stroke="none" stroke-width="1"/>
<path d="M1018 2131 H1042 C1036 2138 1026 2142 1018 2144 Z" fill="#6a48b8" stroke="none" stroke-width="1"/>
<path d="M1018 2175 L1046 2190 C1058 2202 1075 2205 1090 2198 C1104 2191 1118 2182 1130 2173 L1146 2158 L1152 2164 L1142 2178 C1128 2192 1112 2203 1098 2210 C1110 2214 1125 2210 1140 2203 C1158 2196 1172 2195 1186 2198 L1187 2205 C1172 2206 1158 2210 1147 2219 L1142 2240 L1137 2247 L1131 2233 C1116 2237 1100 2237 1087 2233 C1072 2228 1058 2228 1048 2233 L1040 2240 L1018 2240 Z" fill="#f8f8fb" stroke="none" stroke-width="1"/>
</g></g>
</g>
</svg></body></html>
